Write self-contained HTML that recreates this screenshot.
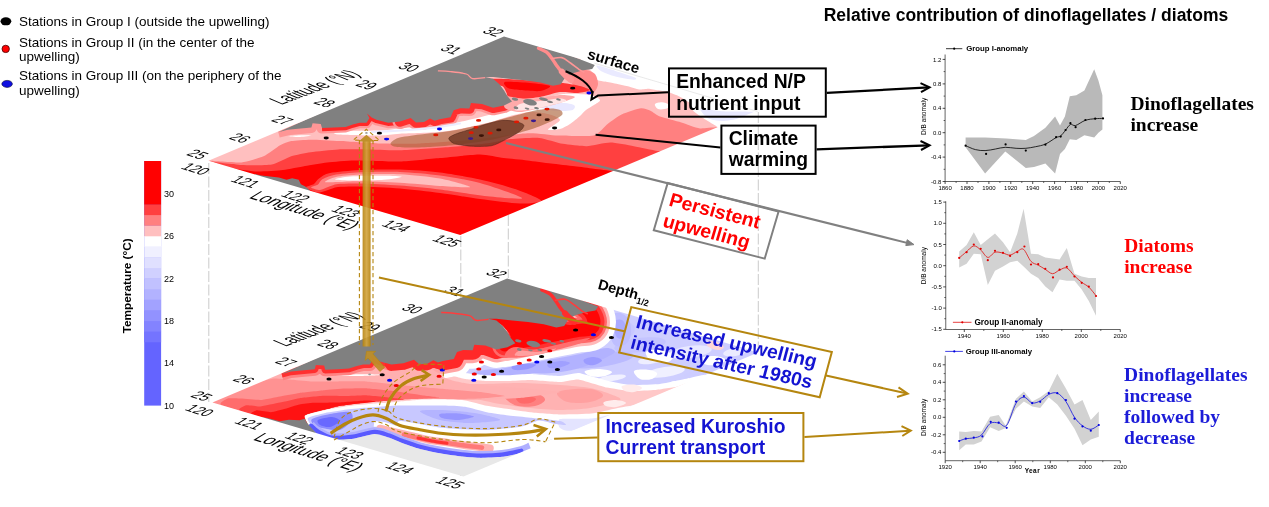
<!DOCTYPE html>
<html><head><meta charset="utf-8"><title>figure</title>
<style>
html,body{margin:0;padding:0;background:#fff;}
body{width:1269px;height:507px;overflow:hidden;}
svg{display:block;font-family:"Liberation Sans",sans-serif;}
</style></head><body>
<svg width="1269" height="507" viewBox="0 0 1269 507">
<rect width="1269" height="507" fill="#fff"/>
<g opacity="0.999">
<path d="M208.8,163 V402" stroke="#b4b4b4" stroke-width="0.7" stroke-dasharray="11 2.5" fill="none"/>
<path d="M460.8,236 V476" stroke="#b4b4b4" stroke-width="0.7" stroke-dasharray="11 2.5" fill="none"/>
<path d="M508.3,215 V278" stroke="#b4b4b4" stroke-width="0.7" stroke-dasharray="11 2.5" fill="none"/>
<path d="M758.3,112 V352" stroke="#b4b4b4" stroke-width="0.7" stroke-dasharray="11 2.5" fill="none"/>
<clipPath id="ctop"><path d="M208.4,160.7 L504,36.6 L756,111 L460.3,234.9Z"/></clipPath>
<g clip-path="url(#ctop)"><g opacity="0.999">
<path d="M204,159.2 L227.6,160.5 L300,150 L480,144 L625,164 L660,150 L700,140 L470,252 L455,239.5Z" fill="rgb(255,0,0)" />
<path d="M208.4,160.7 C212.2,161.4 222.9,166.2 227.6,167.3 C232.3,168.4 249.7,171.2 255.2,171.5 C260.7,171.8 277.9,170.7 282.9,170.1 C287.9,169.5 300.6,166.8 305,166 C309.4,165.2 322.1,163.0 327.1,162.4 C332.1,161.8 347.4,160.5 354.7,160.4 C362.0,160.3 391.5,161.7 400,161.5 C408.5,161.3 432.0,158.7 440,158 C448.0,157.3 473.6,154.5 480,154.5 C486.4,154.5 499.0,157.4 503.7,158 C508.4,158.6 522.7,159.8 527.4,160.4 C532.1,161.0 546.3,162.9 551,163.5 C555.7,164.1 570.4,165.8 574.7,166.3 C579.0,166.8 589.9,168.2 593.7,168.7 C597.5,169.2 610.0,170.7 612.6,171 C615.2,171.3 617.3,171.1 620,172 C622.7,172.9 624.0,185.2 640,180 C656.0,174.8 766.5,128.5 780,120 C793.5,111.5 802.6,105.0 775,95 C747.4,85.0 562.5,13.5 504,20 C445.5,26.5 219.6,145.9 190,160 C160.4,174.1 204.6,160.0 208.4,160.7Z" fill="rgb(255,64,64)" />
<path d="M208.4,160.7 C210.2,160.8 205.0,160.9 208.3,161.3 C211.6,161.7 235.1,164.8 241.4,165.1 C247.8,165.4 266.8,165.5 271.8,164.6 C276.8,163.7 287.3,157.5 291.2,156.3 C295.1,155.1 305.8,152.9 310.5,152.2 C315.2,151.5 332.6,149.7 338.1,149.4 C343.6,149.1 359.5,149.3 365.7,149.4 C371.9,149.5 391.6,150.4 400,150.2 C408.4,150.0 441.0,147.7 450,147 C459.0,146.3 483.9,143.8 490,143 C496.1,142.2 505.9,139.6 510.8,139.1 C515.7,138.6 534.0,137.4 539.2,137.9 C544.4,138.4 558.2,143.0 562.9,143.8 C567.6,144.6 581.9,146.3 586.6,146.2 C591.3,146.1 605.5,142.6 610.2,142.6 C614.9,142.6 629.2,145.4 633.9,146.2 C638.6,147.0 653.8,150.4 657.6,150.9 C661.4,151.4 667.8,150.1 672,151 C676.2,151.9 689.2,163.1 700,160 C710.8,156.9 772.5,126.5 780,120 C787.5,113.5 802.6,105.0 775,95 C747.4,85.0 562.5,13.5 504,20 C445.5,26.5 219.6,145.9 190,160 C160.4,174.1 206.6,160.6 208.4,160.7Z" fill="rgb(255,128,128)" />
<path d="M208.4,160.7 C213.5,160.9 235.9,162.8 241.4,162.4 C246.9,162.0 259.6,158.0 263.5,156.3 C267.4,154.6 277.3,146.7 280.1,145.2 C282.9,143.7 288.2,141.7 291.2,141.1 C294.2,140.5 305.6,139.7 310.5,139.7 C315.4,139.7 333.1,140.6 340,141 C346.9,141.4 372.0,143.3 380,143.5 C388.0,143.7 411.0,143.8 420,143.4 C429.0,143.1 459.3,141.0 470,140 C480.7,139.0 518.6,133.6 527.4,133.2 C536.2,132.8 551.5,135.3 558.1,135.5 C564.7,135.7 588.7,136.7 593.7,135.5 C598.7,134.3 605.1,125.8 607.9,123.7 C610.7,121.6 618.8,115.7 622.1,114.2 C625.4,112.7 638.2,108.6 641,108.3 C643.8,108.0 648.6,109.9 650.5,110.7 C652.4,111.5 656.9,115.4 660,116.6 C663.1,117.8 677.3,121.3 681.3,122.5 C685.3,123.7 695.7,128.0 700,128.4 C704.3,128.8 720.0,126.3 724,127 C728.0,127.7 734.4,135.7 740,135 C745.6,134.3 776.5,124.0 780,120 C783.5,116.0 802.6,105.0 775,95 C747.4,85.0 562.5,13.5 504,20 C445.5,26.5 219.6,145.9 190,160 C160.4,174.1 203.3,160.5 208.4,160.7Z" fill="rgb(255,191,191)" />
<path d="M338,131 C343.6,130.5 371.7,130.8 380,130.5 C388.3,130.2 391.5,129.1 400,128.4 C408.5,127.7 431.8,126.8 443.4,125.1 C455.0,123.4 478.1,117.6 486.8,115.4 C495.5,113.2 501.5,111.0 508.6,108.9 C515.7,106.8 532.7,102.0 540,100 C547.3,98.0 556.3,94.7 563,94 C569.7,93.3 585.1,94.2 590,95 C594.9,95.8 599.5,98.7 600,100 C600.5,101.3 595.9,103.7 594,105 C592.1,106.3 587.9,108.5 586,110 C584.1,111.5 582.1,114.1 580,116 C577.9,117.9 572.7,122.3 570,124 C567.3,125.7 562.9,128.3 560,129 C557.1,129.7 548.0,130.7 548,129.5 C548.0,128.3 560.0,122.1 560,120 C560.0,117.9 552.0,115.1 548,114 C544.0,112.9 535.3,111.7 530,112 C524.7,112.3 514.4,114.9 508.6,116.4 C502.8,117.9 495.5,121.0 486.8,123 C478.1,125.0 455.0,130.2 443.4,131.6 C431.8,133.0 408.5,133.3 400,133.8 C391.5,134.3 388.3,135.4 380,135.5 C371.7,135.6 343.6,135.1 338,134.5 C332.4,133.9 332.4,131.5 338,131Z" fill="#fff" />
<path d="M585,55 C599.8,56.9 754.2,90.0 770,95 C785.8,100.0 778.8,111.7 775,115 C771.2,118.3 729.7,133.9 725,135 C720.3,136.1 719.8,128.8 718.4,127.6 C717.0,126.4 709.9,122.4 707.8,121 C705.7,119.6 695.1,112.7 693.6,111.2 C692.1,109.7 691.2,104.4 690,103.2 C688.8,102.0 681.3,97.5 679.4,96.5 C677.5,95.5 669.2,92.3 667.4,91.8 C665.6,91.3 659.5,90.6 657.9,90.3 C656.3,90.0 650.0,88.8 648.4,88.7 C646.8,88.6 640.7,89.7 639,89.5 C637.3,89.3 630.0,86.8 627.9,86.3 C625.8,85.8 615.7,83.6 613.7,83.2 C611.7,82.8 605.7,81.9 604.2,81.6 C602.7,81.3 597.0,80.3 596,79.5 C595.0,78.7 592.9,74.0 592,72 C591.1,70.0 570.2,53.1 585,55Z" fill="#fff" />
<path d="M596.9,65.6 C598.8,65.5 610.4,69.3 615.5,70.9 C620.6,72.5 632.6,76.3 635.0,77.5 C637.4,78.7 635.8,79.9 633.2,79.8 C630.6,79.7 619.8,77.7 615.5,76.6 C611.2,75.5 603.8,72.8 601.3,71.3 C598.8,69.8 595.0,65.7 596.9,65.6Z" fill="rgb(234,234,255)" />
<path d="M700.7,108.6 C702.6,107.7 714.7,110.7 722.0,111.2 C729.3,111.7 753.3,111.2 755.7,112.1 C758.1,113.0 744.2,117.1 739.7,118.3 C735.2,119.5 726.3,121.0 722.0,121.0 C717.7,121.0 710.6,120.0 707.8,118.3 C705.0,116.6 698.8,109.5 700.7,108.6Z" fill="rgb(232,232,255)" />
<path d="M655,104 C655.7,102.9 659.8,102.1 662,102.2 C664.2,102.3 667.7,103.5 668.5,104.5 C669.3,105.5 668.8,107.8 667,108.5 C665.2,109.2 660.0,109.8 658,109 C656.0,108.2 654.3,105.1 655,104Z" fill="#fff" />
<path d="M572,70 C574.1,68.7 582.9,69.5 586,70 C589.1,70.5 593.4,72.1 595,74 C596.6,75.9 598.1,81.6 598,84 C597.9,86.4 595.9,90.9 594,92 C592.1,93.1 586.4,92.5 584,92 C581.6,91.5 577.9,89.6 576,88 C574.1,86.4 570.5,82.4 570,80 C569.5,77.6 569.9,71.3 572,70Z" fill="rgb(255,140,140)" />
<path d="M543.4,104.9 C545.9,103.9 553.5,102.7 558.6,102.7 C563.7,102.7 571.6,103.6 573.8,104.9 C576.0,106.2 574.9,109.3 571.6,110.3 C568.4,111.3 559.0,111.1 554.3,110.8 C549.6,110.5 545.2,109.6 543.4,108.6 C541.6,107.6 540.9,105.9 543.4,104.9Z" fill="rgb(232,232,255)" />
<path d="M278.3,132.2 L287.7,129.8 L300.7,128.6 L311.4,127.5 L312.6,123.3 L320.8,123.9 L322,128 L333.8,127.5 L345.7,126.9 L352.7,124.5 L359.8,122.7 L366.5,122.7 L369.5,118 L367,113.5 L371.7,117.5 L376.4,119.8 L388.2,122.7 L400,121.5 L410.7,118 L416,122.5 L424,122 L430,118.5 L434.7,120.8 L439.5,119.2 L450.5,117.3 L453.7,110.2 L460,108.2 L469.4,108.6 L471,103.1 L482,103.9 L493.1,107.8 L504.1,105.5 L512,101.5" stroke="rgb(255,150,150)" stroke-width="11" fill="none" stroke-linejoin="round"/>
<path d="M322,128 L333.8,127.5 L345.7,126.9 L352.7,124.5 L359.8,122.7 L366.5,122.7 L369.5,118 L367,113.5 L371.7,117.5 L376.4,119.8 L388.2,122.7 L400,121.5 L410.7,118 L416,122.5 L424,122 L430,118.5 L434.7,120.8 L439.5,119.2 L450.5,117.3 L453.7,110.2 L460,108.2 L469.4,108.6 L471,103.1 L482,103.9 L493.1,107.8 L504.1,105.5 L512,101.5" stroke="rgb(255,40,40)" stroke-width="6.5" fill="none" stroke-linejoin="round"/>
<path d="M400,121.5 L410.7,118 L416,122.5 L424,122 L430,118.5 L434.7,120.8 L439.5,119.2 L450.5,117.3 L453.7,110.2 L460,108.2 L469.4,108.6 L471,103.1 L482,103.9 L493.1,107.8 L504.1,105.5 L512,101.5" stroke="rgb(255,150,150)" stroke-width="15" fill="none" stroke-linejoin="round" stroke-linecap="round"/>
<path d="M400,121.5 L410.7,118 L416,122.5 L424,122 L430,118.5 L434.7,120.8 L439.5,119.2 L450.5,117.3 L453.7,110.2 L460,108.2 L469.4,108.6 L471,103.1 L482,103.9 L493.1,107.8 L504.1,105.5 L512,101.5" stroke="rgb(255,48,48)" stroke-width="10.5" fill="none" stroke-linejoin="round" stroke-linecap="round"/>
<path d="M372,132 C376.7,131.8 390.3,131.1 400,130.5 C409.7,129.9 420.0,129.4 430,128.2 C440.0,127.0 455.0,124.3 460,123.5" stroke="rgb(236,236,255)" stroke-width="2.2" fill="none" stroke-linecap="round"/>
<path d="M438,69.8 C439.0,70.0 463.8,78.1 470,79 C476.2,79.9 493.0,78.6 500,78.8 C507.0,79.0 533.7,80.6 540,81 C546.3,81.4 559.0,82.5 563,83 C567.0,83.5 577.3,85.3 580,86 C582.7,86.7 590.2,89.3 590,90 C589.8,90.7 581.0,92.8 578,93 C575.0,93.2 563.8,91.6 560,92 C556.2,92.4 544.0,96.3 540,97 C536.0,97.7 523.2,99.1 520,99 C516.8,98.9 509.4,96.6 508,96 C506.6,95.4 507.0,93.6 506.4,92.6 C505.8,91.6 504.4,87.2 502,86.1 C499.6,85.0 486.7,82.6 482.5,81.7 C478.3,80.8 464.4,78.2 460,77 C455.6,75.8 437.0,69.6 438,69.8Z" fill="rgb(255,50,50)" />
<path d="M505,82 C507.9,81.3 524.0,82.5 530,83 C536.0,83.5 548.7,84.9 550,86 C551.3,87.1 544.0,90.5 540,91 C536.0,91.5 524.3,90.4 520,90 C515.7,89.6 510.0,89.1 508,88 C506.0,86.9 502.1,82.7 505,82Z" fill="rgb(255,0,0)" />
<path d="M506,97 C509.3,95.8 522.8,99.3 530,99 C537.2,98.7 554.0,95.3 560,95 C566.0,94.7 575.0,95.9 575,97 C575.0,98.1 564.7,101.5 560,103 C555.3,104.5 545.3,106.8 540,108 C534.7,109.2 524.7,112.0 520,112 C515.3,112.0 506.9,110.0 505,108 C503.1,106.0 502.7,98.2 506,97Z" fill="rgb(255,170,170)" />
<path d="M520,104 C523.3,102.8 534.7,101.7 540,101 C545.3,100.3 556.5,98.5 560,98.5 C563.5,98.5 567.6,100.0 566,101 C564.4,102.0 553.1,104.8 548,106 C542.9,107.2 532.4,109.5 528,110 C523.6,110.5 516.1,110.8 515,110 C513.9,109.2 516.7,105.2 520,104Z" fill="rgb(255,228,228)" />
<path d="M534.7,49.5 C534.9,49.3 541.7,51.3 543.4,51.7 C545.1,52.1 549.9,52.9 552.1,53.9 C554.3,54.9 562.9,60.2 565.1,61.5 C567.3,62.8 571.8,65.9 573.8,66.9 C575.8,68.0 584.4,70.9 585,72 C585.6,73.1 581.5,77.4 580,78 C578.5,78.6 571.7,78.5 570,78 C568.3,77.5 564.4,74.5 563,73.4 C561.6,72.3 557.7,68.2 556.4,66.9 C555.1,65.6 551.4,61.7 549.9,60.4 C548.4,59.1 542.8,55.0 541.3,53.9 C539.8,52.8 534.5,49.7 534.7,49.5Z" fill="rgb(255,140,140)" />
<path d="M306,187.5 C305.5,186.4 312.3,185.2 314,184 C315.7,182.8 316.9,180.0 319,178.5 C321.1,177.0 324.5,174.1 330,173 C335.5,171.9 350.7,170.5 360,170 C369.3,169.5 389.3,169.2 400,169.5 C410.7,169.8 429.3,171.2 440,172.5 C450.7,173.8 470.0,177.3 480,179.5 C490.0,181.7 506.9,186.2 515,189 C523.1,191.8 540.3,198.6 541,200.5 C541.7,202.4 528.1,203.7 520,203.5 C511.9,203.3 490.7,200.4 480,199 C469.3,197.6 450.7,194.4 440,193 C429.3,191.6 410.7,189.4 400,188.5 C389.3,187.6 368.3,186.7 360,186.5 C351.7,186.3 342.3,186.5 338,187 C333.7,187.5 330.7,189.3 328,190 C325.3,190.7 320.9,192.8 318,192.5 C315.1,192.2 306.5,188.6 306,187.5Z" fill="rgb(255,64,64)" />
<path d="M311,187.5 C310.7,186.8 316.5,185.6 318,184.5 C319.5,183.4 319.9,180.8 322,179.5 C324.1,178.2 328.9,176.0 334,175 C339.1,174.0 351.2,172.7 360,172.3 C368.8,171.9 389.3,171.6 400,172 C410.7,172.4 429.3,174.0 440,175.5 C450.7,177.0 469.1,180.0 480,183 C490.9,186.0 520.7,196.2 522,198 C523.3,199.8 500.9,197.6 490,196.5 C479.1,195.4 452.0,191.0 440,189.5 C428.0,188.0 410.7,186.3 400,185.5 C389.3,184.7 368.3,183.7 360,183.5 C351.7,183.3 342.3,183.5 338,184 C333.7,184.5 330.4,186.2 328,187 C325.6,187.8 322.3,189.9 320,190 C317.7,190.1 311.3,188.2 311,187.5Z" fill="rgb(255,128,128)" />
<path d="M325,182 C324.7,181.3 331.3,178.0 336,177 C340.7,176.0 351.5,174.9 360,174.5 C368.5,174.1 389.3,173.7 400,174.2 C410.7,174.7 430.7,176.8 440,178.5 C449.3,180.2 470.0,186.0 470,187 C470.0,188.0 449.3,186.6 440,186 C430.7,185.4 410.7,183.4 400,182.8 C389.3,182.2 368.3,181.3 360,181.2 C351.7,181.1 342.7,181.9 338,182 C333.3,182.1 325.3,182.7 325,182Z" fill="rgb(255,191,191)" />
<path d="M335,179.3 C335.0,178.8 343.5,177.0 350,176.5 C356.5,176.0 377.1,175.7 384,175.7 C390.9,175.7 402.0,176.3 402,176.8 C402.0,177.3 390.9,179.3 384,179.8 C377.1,180.3 356.5,180.6 350,180.5 C343.5,180.4 335.0,179.8 335,179.3Z" fill="#fff" />
<path d="M288,136.3 C288.0,136.1 296.8,135.4 300,135.3 C303.2,135.2 312.0,135.4 312,135.6 C312.0,135.8 303.2,136.9 300,137 C296.8,137.1 288.0,136.5 288,136.3Z" fill="#fff" />
<path d="M278.3,132.2 L287.7,129.8 L300.7,128.6 L311.4,127.5 L312.6,123.3 L320.8,123.9 L322,128 L333.8,127.5 L345.7,126.9 L352.7,124.5 L359.8,122.7 L366.5,122.7 L369.5,118 L367,113.5 L371.7,117.5 L376.4,119.8 L388.2,122.7 L400,121.5 L410.7,118 L416,122.5 L424,122 L430,118.5 L434.7,120.8 L439.5,119.2 L450.5,117.3 L453.7,110.2 L460,108.2 L469.4,108.6 L471,103.1 L482,103.9 L493.1,107.8 L504.1,105.5 L512,101.5 L507.3,96 L504.1,90.5 L499.4,84.2 L493.1,78.7 L485.2,77.1 L493.1,77.1 L508.9,78.7 L524.7,80.2 L540.4,82.6 L553,85.8 L560.9,84.2 L563.5,80 L566,76.5 L572.7,73.2 L583.5,70.2 L592.2,68.9 L594.8,64.9 L504,30Z" fill="#808080" />
<path d="M485.2,77.6 C483.1,77.8 475.8,79.2 472.6,78.6 C469.5,78.0 470.0,75.2 466.3,74 C462.6,72.8 455.2,72.1 450.5,71.6 C445.8,71.1 440.0,70.9 437.9,70.8" stroke="rgb(255,150,150)" stroke-width="1.3" fill="none"/>
<path d="M538.5,48.2 C539.9,48.9 544.3,50.5 546.6,52.2 C548.9,54.0 550.5,56.5 552.1,58.7 C553.7,60.9 554.8,63.0 556.4,65.2 C558.0,67.4 559.8,69.7 561.8,71.7 C563.8,73.8 567.2,76.5 568.3,77.5" stroke="rgb(255,140,140)" stroke-width="3.4" fill="none" stroke-linecap="round"/>
<path d="M552.1,58.7 C553.7,58.5 558.7,56.9 561.8,57.6 C564.9,58.3 567.6,61.0 570.5,63 C573.4,65.0 577.0,68.1 579.2,69.6 C581.5,71.1 583.2,71.6 584,72" stroke="rgb(255,150,150)" stroke-width="1.6" fill="none" stroke-linecap="round"/>
<path d="M561.8,71.7 C562.5,72.4 564.5,74.6 566,76 C567.5,77.4 570.2,79.3 571,80" stroke="rgb(255,150,150)" stroke-width="6" fill="none" stroke-linecap="round"/>
<path d="M255,174 L261.2,175.4 L270,176.5 L278.8,177.6 L286.6,179.8 L292.1,178.2 L298.7,179.8 L300.9,184.2 L305.3,186.4 L308.6,189.3 L312,193 L255,180Z" fill="#808080" />
<ellipse cx="515" cy="99.2" rx="3.2" ry="1.5" fill="#808080" transform="rotate(12 515 99.2)"/>
<ellipse cx="530" cy="102.3" rx="7" ry="3" fill="#808080" transform="rotate(12 530 102.3)"/>
<ellipse cx="543.5" cy="99.2" rx="4.5" ry="1.5" fill="#808080" transform="rotate(12 543.5 99.2)"/>
<ellipse cx="550" cy="101.8" rx="3" ry="1.1" fill="#808080" transform="rotate(12 550 101.8)"/>
<ellipse cx="558.5" cy="99.5" rx="2.4" ry="1.1" fill="#808080" transform="rotate(12 558.5 99.5)"/>
<ellipse cx="516" cy="107.8" rx="2.4" ry="1.4" fill="#808080" transform="rotate(12 516 107.8)"/>
<ellipse cx="527" cy="108.6" rx="2.4" ry="0.9" fill="#808080" transform="rotate(12 527 108.6)"/>
<ellipse cx="536.5" cy="108.2" rx="2.4" ry="1.1" fill="#808080" transform="rotate(12 536.5 108.2)"/>
<path d="M390.5,143.5 C391.0,142.4 394.1,139.2 398,138 C401.9,136.8 413.1,135.4 420,134.5 C426.9,133.6 442.0,132.3 450,131 C458.0,129.7 472.0,126.9 480,125 C488.0,123.1 502.7,118.9 510,117 C517.3,115.1 529.4,111.6 535,110.5 C540.6,109.4 548.5,108.5 552,108.5 C555.5,108.5 559.7,109.6 561,110.5 C562.3,111.4 563.2,113.6 562,115 C560.8,116.4 555.6,119.3 552,121 C548.4,122.7 539.9,126.3 535,128 C530.1,129.7 521.0,132.4 515,134 C509.0,135.6 497.3,138.6 490,140 C482.7,141.4 468.0,143.6 460,144.5 C452.0,145.4 437.3,146.6 430,147 C422.7,147.4 409.8,147.6 405,147.5 C400.2,147.4 395.9,147.0 394,146.5 C392.1,146.0 390.0,144.6 390.5,143.5Z" fill="rgba(170,98,58,0.64)" />
<path d="M448.8,138.2 C449.1,136.9 453.4,135.0 456.4,133.8 C459.4,132.6 467.5,130.3 471.6,129.0 C475.7,127.7 482.7,125.1 486.8,124.0 C490.9,122.9 498.2,120.7 502.0,120.4 C505.8,120.1 512.2,120.8 515.1,121.4 C518.0,122.0 523.2,123.7 523.8,125.1 C524.4,126.5 522.0,129.6 519.4,131.6 C516.8,133.6 508.0,138.4 504.2,140.3 C500.4,142.2 495.5,145.0 491.2,145.8 C486.9,146.6 476.5,146.5 471.6,146.2 C466.7,145.9 457.3,144.7 454.3,143.6 C451.3,142.5 448.5,139.5 448.8,138.2Z" fill="rgba(110,55,35,0.8)" stroke="rgba(70,30,20,0.8)" stroke-width="0.6"/>
<ellipse cx="326.2" cy="138" rx="2.6" ry="1.4" fill="#000"/>
<ellipse cx="379.4" cy="133.2" rx="2.6" ry="1.4" fill="#000"/>
<ellipse cx="386.6" cy="139.1" rx="2.6" ry="1.4" fill="#0000f0"/>
<ellipse cx="439.5" cy="129" rx="2.6" ry="1.4" fill="#0000f0"/>
<ellipse cx="435.8" cy="134.9" rx="2.6" ry="1.4" fill="#e01800"/>
<ellipse cx="478.6" cy="120.4" rx="2.6" ry="1.4" fill="#e01800"/>
<ellipse cx="476" cy="127.3" rx="2.6" ry="1.4" fill="#e01800"/>
<ellipse cx="471.2" cy="132.7" rx="2.6" ry="1.4" fill="#e01800"/>
<ellipse cx="470.6" cy="138.6" rx="2.6" ry="1.4" fill="#3a1a90"/>
<ellipse cx="481.4" cy="135.6" rx="2.6" ry="1.4" fill="#3a1206"/>
<ellipse cx="490.1" cy="133.2" rx="2.6" ry="1.4" fill="#e01800"/>
<ellipse cx="498.8" cy="129.9" rx="2.6" ry="1.4" fill="#3a1206"/>
<ellipse cx="516.6" cy="121.9" rx="2.6" ry="1.4" fill="#e01800"/>
<ellipse cx="525.9" cy="118.2" rx="2.6" ry="1.4" fill="#e01800"/>
<ellipse cx="533.5" cy="120.8" rx="2.6" ry="1.4" fill="#3a1a90"/>
<ellipse cx="539" cy="114.9" rx="2.6" ry="1.4" fill="#3a1206"/>
<ellipse cx="547.2" cy="119.7" rx="2.6" ry="1.4" fill="#3a1206"/>
<ellipse cx="547" cy="109.1" rx="2.6" ry="1.4" fill="#e01800"/>
<ellipse cx="554.6" cy="128" rx="2.6" ry="1.4" fill="#000"/>
<ellipse cx="572.7" cy="88.2" rx="2.6" ry="1.4" fill="#000"/>
<ellipse cx="589" cy="93" rx="2.6" ry="1.4" fill="#0000f0"/>
</g></g>
<path d="M594.5,63.3 L757.5,111.4" stroke="#e0e0e0" stroke-width="0.7"/>
<clipPath id="cbot"><path d="M212.4,402.4 L507.1,278.4 L758.2,352.5 L463.5,476.5Z"/></clipPath>
<g clip-path="url(#cbot)"><g opacity="0.999">
<path d="M420,330 L507,268 L775,352 L463.5,490 L300,432Z" fill="rgb(206,206,255)" />
<ellipse cx="640" cy="345" rx="26" ry="7" fill="rgb(196,196,255)" transform="rotate(-8 640 345)"/>
<ellipse cx="600" cy="360" rx="34" ry="7" fill="rgb(186,186,255)" transform="rotate(-8 600 360)"/>
<ellipse cx="690" cy="352" rx="22" ry="6" fill="rgb(232,232,255)" transform="rotate(-8 690 352)"/>
<ellipse cx="560" cy="366" rx="32" ry="6" fill="rgb(178,178,255)" transform="rotate(-8 560 366)"/>
<ellipse cx="520" cy="370.5" rx="30" ry="4.5" fill="rgb(170,170,255)" transform="rotate(-8 520 370.5)"/>
<ellipse cx="485" cy="373" rx="18" ry="3" fill="rgb(180,180,255)" transform="rotate(-8 485 373)"/>
<ellipse cx="665" cy="372" rx="20" ry="5" fill="rgb(240,240,255)" transform="rotate(-8 665 372)"/>
<ellipse cx="625" cy="330" rx="10" ry="8" fill="rgb(200,200,255)" transform="rotate(-8 625 330)"/>
<ellipse cx="700" cy="374" rx="16" ry="4" fill="rgb(205,205,255)" transform="rotate(-8 700 374)"/>
<ellipse cx="735" cy="352" rx="12" ry="4" fill="rgb(236,236,255)" transform="rotate(-8 735 352)"/>
<ellipse cx="650" cy="360" rx="12" ry="4" fill="rgb(238,238,255)" transform="rotate(-8 650 360)"/>
<ellipse cx="612" cy="378" rx="14" ry="3" fill="rgb(240,240,255)" transform="rotate(-8 612 378)"/>
<ellipse cx="715" cy="345.5" rx="9" ry="4" fill="rgb(255,215,215)" transform="rotate(15 715 345.5)"/>
<path d="M609,316 C610.3,313.8 616.7,312.3 620,313 C623.3,313.7 627.2,316.5 629,320 C630.8,323.5 631.5,330.0 631,334 C630.5,338.0 628.5,342.0 626,344 C623.5,346.0 618.5,347.0 616,346 C613.5,345.0 611.7,341.3 611,338 C610.3,334.7 612.3,329.7 612,326 C611.7,322.3 607.7,318.2 609,316Z" fill="rgb(190,190,255)" />
<path d="M614,322 C615.0,319.3 620.0,319.0 622,320 C624.0,321.0 626.0,325.0 626,328 C626.0,331.0 623.7,336.7 622,338 C620.3,339.3 617.3,338.7 616,336 C614.7,333.3 613.0,324.7 614,322Z" fill="rgb(170,170,255)" />
<path d="M470,376 C472.7,374.8 490.7,370.9 500,369 C509.3,367.1 529.3,363.5 540,361.5 C550.7,359.5 571.2,355.8 580,354 C588.8,352.2 601.3,348.3 606,348 C610.7,347.7 615.8,350.4 615,352 C614.2,353.6 606.0,358.0 600,360 C594.0,362.0 578.0,365.4 570,367 C562.0,368.6 548.0,370.8 540,372 C532.0,373.2 518.0,375.2 510,376 C502.0,376.8 485.3,378.0 480,378 C474.7,378.0 467.3,377.2 470,376Z" fill="rgb(178,178,255)" />
<path d="M512,366.5 C513.5,365.4 520.0,363.8 524,363.5 C528.0,363.2 535.3,363.6 536,364.5 C536.7,365.4 531.5,368.1 528,369 C524.5,369.9 517.7,370.4 515,370 C512.3,369.6 510.5,367.6 512,366.5Z" fill="rgb(150,150,255)" />
<path d="M584,359.5 C585.3,358.3 591.0,356.8 594,357 C597.0,357.2 602.0,359.2 602,360.5 C602.0,361.8 596.7,364.4 594,365 C591.3,365.6 587.7,364.9 586,364 C584.3,363.1 582.7,360.7 584,359.5Z" fill="rgb(155,155,255)" />
<path d="M548,364 C549.7,362.8 556.3,361.2 560,361 C563.7,360.8 570.0,361.9 570,363 C570.0,364.1 563.3,366.7 560,367.5 C556.7,368.3 552.0,368.6 550,368 C548.0,367.4 546.3,365.2 548,364Z" fill="rgb(160,160,255)" />
<path d="M634,371 C635.0,369.4 642.2,369.2 646,369.5 C649.8,369.8 656.0,371.4 657,373 C658.0,374.6 654.8,378.0 652,379 C649.2,380.0 643.0,380.3 640,379 C637.0,377.7 633.0,372.6 634,371Z" fill="#fff" />
<path d="M646,352 C647.3,350.2 655.5,349.5 660,350 C664.5,350.5 671.7,353.0 673,355 C674.3,357.0 671.5,361.0 668,362 C664.5,363.0 655.7,362.7 652,361 C648.3,359.3 644.7,353.8 646,352Z" fill="#fff" />
<path d="M671,382 C672.7,380.6 681.5,380.5 686,381 C690.5,381.5 697.3,383.4 698,385 C698.7,386.6 693.7,389.8 690,390.5 C686.3,391.2 679.2,390.9 676,389.5 C672.8,388.1 669.3,383.4 671,382Z" fill="#fff" />
<path d="M700,358 C701.8,356.7 710.7,355.7 715,356 C719.3,356.3 725.8,358.5 726,360 C726.2,361.5 719.7,364.3 716,365 C712.3,365.7 706.7,365.2 704,364 C701.3,362.8 698.2,359.3 700,358Z" fill="#fff" />
<path d="M585,371 C586.7,369.8 595.5,368.8 600,369 C604.5,369.2 611.5,370.8 612,372 C612.5,373.2 606.7,375.8 603,376.5 C599.3,377.2 593.0,376.9 590,376 C587.0,375.1 583.3,372.2 585,371Z" fill="#fff" />
<path d="M453.8,359.0 L457.0,351.9 L463.3,349.9 L472.7,350.29999999999995 L474.3,344.79999999999995 L485.3,345.6 L496.40000000000003,349.5 L507.40000000000003,347.2 L515.3,343.2 L523.3,340.7 L548.3,336.7 L568.3,331.7 L583.3,329.7" stroke="#fff" stroke-width="37" fill="none" stroke-linejoin="round" stroke-linecap="round"/>
<path d="M505,345 C510.8,343.8 528.3,340.3 540,338 C551.7,335.7 566.7,332.5 575,331 C583.3,329.5 586.8,330.5 590,329 C593.2,327.5 594.0,324.8 594,322 C594.0,319.2 592.0,314.8 590,312 C588.0,309.2 583.3,306.2 582,305" stroke="#fff" stroke-width="44" fill="none" stroke-linecap="round"/>
<path d="M212.4,402.4 C215.3,389.2 490.9,281.4 507.1,278.4 C523.3,275.4 459.5,351.6 455,358 C450.5,364.4 440.0,374.2 440,375 C440.0,375.8 452.6,370.6 454.3,370.5 C456.0,370.4 462.9,372.7 465.1,373 C467.3,373.3 483.9,375.1 486.8,375.2 C489.7,375.3 505.7,375.3 508.6,375.2 C511.5,375.1 526.9,373.9 530.3,374 C533.7,374.1 556.8,376.1 560,376 C563.2,375.9 575.4,372.7 578.5,373 C581.6,373.3 603.3,379.7 606.7,380.5 C610.1,381.3 626.4,384.8 630,385 C633.6,385.2 656.0,384.5 660,384 C664.0,383.5 687.3,378.4 690,378 C692.7,377.6 715.1,371.2 700,377.8 C684.9,384.4 496.0,474.9 463.5,476.5 C431.0,478.1 209.5,415.6 212.4,402.4Z" fill="#fff" />
<path d="M212.4,402.4 C215.3,389.2 490.9,281.1 507.1,278.4 C523.3,275.7 459.5,355.3 455,362 C450.5,368.7 440.0,378.0 440,379 C440.0,380.0 452.6,376.5 454.3,376.5 C456.0,376.5 462.9,378.7 465.1,379 C467.3,379.3 483.9,380.9 486.8,381 C489.7,381.1 505.7,381.1 508.6,381 C511.5,380.9 526.9,379.9 530.3,380 C533.7,380.1 556.8,382.0 560,382 C563.2,382.0 575.4,379.1 578.5,379.5 C581.6,379.9 603.3,386.8 606.7,387.6 C610.1,388.4 626.8,390.8 630,391 C633.2,391.2 651.8,390.3 655,390 C658.2,389.7 676.1,386.9 678,386.5 C679.9,386.1 698.3,378.4 684,384.4 C669.7,390.4 494.9,475.3 463.5,476.5 C432.1,477.7 209.5,415.6 212.4,402.4Z" fill="rgb(255,200,200)" />
<path d="M400,384 C405.3,382.4 429.3,384.0 440,384 C450.7,384.0 469.3,384.1 480,384 C490.7,383.9 509.3,382.9 520,383 C530.7,383.1 550.7,384.3 560,385 C569.3,385.7 583.3,386.8 590,388 C596.7,389.2 606.0,392.4 610,394 C614.0,395.6 622.7,398.1 620,400 C617.3,401.9 598.0,406.7 590,408 C582.0,409.3 568.0,410.0 560,410 C552.0,410.0 538.0,408.8 530,408 C522.0,407.2 508.0,405.3 500,404 C492.0,402.7 478.0,399.1 470,398 C462.0,396.9 449.3,396.3 440,396 C430.7,395.7 405.3,397.6 400,396 C394.7,394.4 394.7,385.6 400,384Z" fill="rgb(255,178,178)" />
<path d="M505,395 C507.0,393.5 514.5,392.2 520,392 C525.5,391.8 533.8,392.7 538,394 C542.2,395.3 545.5,398.0 545,400 C544.5,402.0 539.5,405.0 535,406 C530.5,407.0 522.5,406.8 518,406 C513.5,405.2 510.2,402.8 508,401 C505.8,399.2 503.0,396.5 505,395Z" fill="rgb(255,128,128)" />
<path d="M516,397 C517.3,395.8 524.7,395.7 528,396 C531.3,396.3 535.7,397.8 536,399 C536.3,400.2 532.7,402.3 530,403 C527.3,403.7 522.3,404.0 520,403 C517.7,402.0 514.7,398.2 516,397Z" fill="rgb(255,105,105)" />
<path d="M558,392 C560.5,390.5 568.8,389.3 575,389 C581.2,388.7 590.3,388.8 595,390 C599.7,391.2 603.8,394.0 603,396 C602.2,398.0 595.5,400.9 590,402 C584.5,403.1 575.0,403.2 570,402.5 C565.0,401.8 562.0,399.8 560,398 C558.0,396.2 555.5,393.5 558,392Z" fill="rgb(255,160,160)" />
<path d="M470,388 C471.8,387.1 479.7,386.3 484,386.5 C488.3,386.7 495.7,388.0 496,389 C496.3,390.0 489.8,392.0 486,392.5 C482.2,393.0 475.7,392.8 473,392 C470.3,391.2 468.2,388.9 470,388Z" fill="rgb(255,160,160)" />
<path d="M622,386 C623.5,384.9 630.7,384.2 634,384.5 C637.3,384.8 642.0,386.8 642,388 C642.0,389.2 636.8,391.5 634,392 C631.2,392.5 627.0,392.0 625,391 C623.0,390.0 620.5,387.1 622,386Z" fill="rgb(255,236,236)" />
<path d="M436,391 C438.0,390.2 446.0,389.7 450,390 C454.0,390.3 460.0,392.1 460,393 C460.0,393.9 453.7,395.2 450,395.5 C446.3,395.8 440.3,395.2 438,394.5 C435.7,393.8 434.0,391.8 436,391Z" fill="rgb(255,236,236)" />
<path d="M604,402 C605.7,401.0 612.3,399.8 616,400 C619.7,400.2 626.0,401.8 626,403 C626.0,404.2 619.3,406.5 616,407 C612.7,407.5 608.0,406.8 606,406 C604.0,405.2 602.3,403.0 604,402Z" fill="rgb(255,236,236)" />
<path d="M212.4,402.4 C226.2,392.4 491.9,280.4 507.1,278.4 C522.3,276.4 442.5,365.0 440,372 C437.5,379.0 464.7,382.9 470,384 C475.3,385.1 514.0,387.5 520,388 C526.0,388.5 560.0,391.3 560,392 C560.0,392.7 526.0,397.5 520,398 C514.0,398.5 475.1,399.9 470,400 C464.9,400.1 446.7,399.4 443.4,399.3 C440.1,399.2 424.3,398.8 421,398.8 C417.7,398.8 396.0,399.6 393.4,399.8 C390.8,400.0 383.4,401.0 381.6,401.2 C379.8,401.4 368.0,402.0 365.7,402.3 C363.4,402.6 348.6,404.7 346.8,405 C345.0,405.3 339.5,405.9 338.1,406.2 C336.7,406.5 327.2,409.0 325.1,409.6 C323.0,410.2 308.4,413.4 306.7,414.6 C305.0,415.8 306.3,429.1 300,428.3 C293.7,427.5 198.6,412.4 212.4,402.4Z" fill="rgb(255,176,176)" />
<path d="M212.4,402.4 C209.1,399.5 246.7,386.9 250,385.5 C253.3,384.1 260.3,381.5 262,381 C263.7,380.5 273.1,378.6 275,378.5 C276.9,378.4 287.6,379.3 290,379.5 C292.4,379.7 307.3,381.3 310.5,381.4 C313.7,381.5 334.4,381.4 338.1,381.4 C341.8,381.4 362.0,381.2 365.7,381.4 C369.4,381.6 389.7,383.8 393.4,384.2 C397.1,384.6 417.2,386.6 421,387 C424.8,387.4 446.1,389.2 450,389.5 C453.9,389.8 476.3,391.6 480,392 C483.7,392.4 505.0,395.6 505,396 C505.0,396.4 484.1,398.3 480,398.5 C475.9,398.7 447.3,399.3 443.4,399.3 C439.5,399.3 424.3,398.8 421,398.8 C417.7,398.8 396.0,399.6 393.4,399.8 C390.8,400.0 383.4,401.0 381.6,401.2 C379.8,401.4 368.0,402.0 365.7,402.3 C363.4,402.6 348.6,404.7 346.8,405 C345.0,405.3 339.5,405.9 338.1,406.2 C336.7,406.5 327.2,409.0 325.1,409.6 C323.0,410.2 308.4,413.4 306.7,414.6 C305.0,415.8 306.3,429.1 300,428.3 C293.7,427.5 215.7,405.3 212.4,402.4Z" fill="rgb(255,146,146)" />
<path d="M336,375.2 C336.0,375.0 353.6,374.4 360,374.3 C366.4,374.2 384.0,374.6 384,374.8 C384.0,375.0 366.4,375.9 360,376 C353.6,376.1 336.0,375.4 336,375.2Z" fill="#fff" />
<path d="M222,405.2 C217.2,403.2 226.7,398.9 228,398.5 C229.3,398.1 238.7,398.5 240.9,398.6 C243.1,398.7 257.8,400.1 260.4,400 C263.0,399.9 277.3,396.9 279.9,396.4 C282.5,395.9 296.5,393.3 299.5,392.9 C302.5,392.5 321.3,390.5 324.3,390.2 C327.3,389.9 342.2,388.7 345,388.6 C347.8,388.5 362.5,388.1 365.7,388.3 C368.9,388.5 389.7,390.6 393.4,391.1 C397.1,391.6 417.9,394.8 421,395.2 C424.1,395.6 440.0,397.3 440,397.5 C440.0,397.7 424.1,398.6 421,398.8 C417.9,399.0 396.0,399.6 393.4,399.8 C390.8,400.0 383.4,401.0 381.6,401.2 C379.8,401.4 368.0,402.0 365.7,402.3 C363.4,402.6 348.6,404.7 346.8,405 C345.0,405.3 339.5,405.9 338.1,406.2 C336.7,406.5 327.2,409.0 325.1,409.6 C323.0,410.2 308.4,413.4 306.7,414.6 C305.0,415.8 305.6,428.9 300,428.3 C294.4,427.7 226.8,407.2 222,405.2Z" fill="rgb(255,108,108)" />
<path d="M240,410.5 C236.4,409.0 245.2,405.6 246,405.3 C246.8,405.0 250.5,405.4 251.5,405.5 C252.5,405.6 258.5,406.7 260.4,406.5 C262.3,406.3 277.3,403.2 279.9,402.6 C282.5,402.0 296.5,398.7 299.5,398.2 C302.5,397.7 321.3,395.9 324.3,395.8 C327.3,395.7 342.2,396.0 345,396 C347.8,396.0 362.5,395.1 365.7,395.2 C368.9,395.3 390.8,397.7 393.4,398 C396.0,398.3 405.8,399.3 405,399.5 C404.2,399.7 384.2,401.0 381.6,401.2 C379.0,401.4 368.0,402.0 365.7,402.3 C363.4,402.6 348.6,404.7 346.8,405 C345.0,405.3 339.5,405.9 338.1,406.2 C336.7,406.5 327.2,409.0 325.1,409.6 C323.0,410.2 308.4,413.4 306.7,414.6 C305.0,415.8 304.4,428.6 300,428.3 C295.6,428.0 243.6,412.0 240,410.5Z" fill="rgb(255,66,66)" />
<path d="M252,414.1 C249.1,412.9 255.6,410.6 256,410.4 C256.4,410.2 257.6,410.5 258.6,410.6 C259.6,410.7 269.2,412.3 271,412.2 C272.8,412.1 283.4,409.3 285.3,408.8 C287.2,408.3 297.6,405.0 299.5,404.6 C301.4,404.2 311.1,402.9 313.7,402.8 C316.3,402.7 334.6,402.8 338.1,402.6 C341.6,402.4 363.2,400.6 365.7,400.5 C368.2,400.4 377.3,401.2 376,401.5 C374.7,401.8 349.3,404.7 346.8,405 C344.3,405.3 339.5,405.9 338.1,406.2 C336.7,406.5 327.2,409.0 325.1,409.6 C323.0,410.2 307.7,413.9 306.7,414.6 C305.7,415.3 310.4,419.1 310,420 C309.6,420.9 303.9,428.7 300,428.3 C296.1,427.9 254.9,415.3 252,414.1Z" fill="rgb(255,18,18)" />
<path d="M442.8,360.9 L453.8,359.0 L457.0,351.9 L463.3,349.9 L472.7,350.29999999999995 L474.3,344.79999999999995 L485.3,345.6 L496.40000000000003,349.5 L507.40000000000003,347.2 L515.3,343.2 L523.3,340.7 L548.3,336.7 L568.3,331.7 L583.3,329.7" stroke="rgb(255,165,165)" stroke-width="26" fill="none" stroke-linejoin="round" stroke-linecap="round"/>
<path d="M505,345 C510.8,343.8 528.3,340.3 540,338 C551.7,335.7 566.7,332.5 575,331 C583.3,329.5 586.8,330.5 590,329 C593.2,327.5 594.0,324.8 594,322 C594.0,319.2 592.0,314.8 590,312 C588.0,309.2 583.3,306.2 582,305" stroke="rgb(255,185,185)" stroke-width="32" fill="none" stroke-linecap="round"/>
<path d="M281.6,373.9 L291.0,371.5 L304.0,370.29999999999995 L314.7,369.2 L315.90000000000003,365.0 L324.1,365.6 L325.3,369.7 L337.1,369.2 L349.0,368.6 L356.0,366.2 L363.1,364.4 L369.8,364.4 L372.8,359.7 L370.3,355.2 L375.0,359.2 L379.7,361.5 L391.5,364.4 L403.3,363.2 L414.0,359.7 L419.3,364.2 L427.3,363.7 L433.3,360.2 L438.0,362.5 L442.8,360.9 L453.8,359.0" stroke="rgb(255,130,130)" stroke-width="13" fill="none" stroke-linejoin="round"/>
<path d="M281.6,373.9 L291.0,371.5 L304.0,370.29999999999995 L314.7,369.2 L315.90000000000003,365.0 L324.1,365.6 L325.3,369.7 L337.1,369.2 L349.0,368.6 L356.0,366.2 L363.1,364.4 L369.8,364.4 L372.8,359.7 L370.3,355.2 L375.0,359.2 L379.7,361.5 L391.5,364.4 L403.3,363.2 L414.0,359.7 L419.3,364.2 L427.3,363.7 L433.3,360.2 L438.0,362.5 L442.8,360.9 L453.8,359.0" stroke="rgb(255,48,48)" stroke-width="7.4" fill="none" stroke-linejoin="round"/>
<path d="M391.5,364.4 L403.3,363.2 L414.0,359.7 L419.3,364.2 L427.3,363.7 L433.3,360.2 L438.0,362.5 L442.8,360.9 L453.8,359.0" stroke="rgb(255,40,40)" stroke-width="13" fill="none" stroke-linejoin="round" stroke-linecap="round"/>
<path d="M442.8,360.9 L453.8,359.0 L457.0,351.9 L463.3,349.9 L472.7,350.29999999999995 L474.3,344.79999999999995 L485.3,345.6 L496.40000000000003,349.5 L507.40000000000003,347.2 L515.3,343.2 L523.3,340.7 L548.3,336.7 L568.3,331.7 L583.3,329.7" stroke="rgb(255,40,40)" stroke-width="19" fill="none" stroke-linejoin="round" stroke-linecap="round"/>
<path d="M505,345 C510.8,343.8 528.3,340.3 540,338 C551.7,335.7 566.7,332.5 575,331 C583.3,329.5 586.8,330.5 590,329 C593.2,327.5 594.0,324.8 594,322 C594.0,319.2 592.0,314.8 590,312 C588.0,309.2 583.3,306.2 582,305" stroke="rgb(255,105,105)" stroke-width="26" fill="none" stroke-linecap="round"/>
<path d="M505,345 C510.8,343.8 528.3,340.3 540,338 C551.7,335.7 566.7,332.5 575,331 C583.3,329.5 586.8,330.5 590,329 C593.2,327.5 594.0,324.8 594,322 C594.0,319.2 592.0,314.8 590,312 C588.0,309.2 583.3,306.2 582,305" stroke="rgb(255,50,50)" stroke-width="21" fill="none" stroke-linecap="round"/>
<path d="M505,345 C510.8,343.8 528.3,340.3 540,338 C551.7,335.7 566.7,332.5 575,331 C583.3,329.5 586.8,330.5 590,329 C593.2,327.5 594.0,324.8 594,322 C594.0,319.2 592.0,314.8 590,312 C588.0,309.2 583.3,306.2 582,305" stroke="rgb(255,5,5)" stroke-width="13" fill="none" stroke-linecap="round"/>
<path d="M482,316.5 C482.5,315.9 498.7,318.0 505,318.5 C511.3,319.0 538.0,320.8 545,321.5 C552.0,322.2 570.5,325.1 575,326 C579.5,326.9 591.5,328.6 590,330 C588.5,331.4 566.0,338.6 560,340 C554.0,341.4 534.6,343.8 530,344 C525.4,344.2 516.1,343.1 514,342 C511.9,340.9 510.4,334.8 509,333 C507.6,331.2 502.7,325.6 500,324 C497.3,322.4 481.5,317.1 482,316.5Z" fill="rgb(255,5,5)" />
<path d="M516,347 C519.6,346.9 529.7,349.8 535,349.5 C540.3,349.2 550.7,346.2 556,345 C561.3,343.8 570.5,341.4 575,340.5 C579.5,339.6 589.3,337.6 590,338 C590.7,338.4 584.0,342.0 580,343.5 C576.0,345.0 565.3,347.6 560,349 C554.7,350.4 545.3,352.9 540,354 C534.7,355.1 524.7,357.1 520,357.5 C515.3,357.9 506.6,358.0 505,357 C503.4,356.0 506.5,351.3 508,350 C509.5,348.7 512.4,347.1 516,347Z" fill="rgb(255,110,110)" />
<path d="M520,350.5 C523.1,350.0 533.2,352.3 538,352 C542.8,351.7 554.7,348.4 556,348.5 C557.3,348.6 551.5,351.6 548,352.5 C544.5,353.4 534.4,355.1 530,355.5 C525.6,355.9 516.3,356.2 515,355.5 C513.7,354.8 516.9,351.0 520,350.5Z" fill="rgb(255,160,160)" />
<path d="M305,415.5 C306.4,414.3 321.6,410.7 325.1,409.9 C328.6,409.1 343.2,406.7 346.8,406.2 C350.4,405.7 365.7,404.3 368.6,404 C371.5,403.7 379.4,403.2 381.6,403 C383.8,402.8 391.4,402.2 394.6,401.9 C397.8,401.6 415.9,399.9 420,399.7 C424.1,399.5 439.6,399.2 443.4,399.3 C447.2,399.4 461.5,399.9 465.1,400.4 C468.7,400.9 483.2,405.1 486.8,405.8 C490.4,406.5 505.0,408.6 508.6,409.1 C512.2,409.6 526.0,411.9 530.3,412.3 C534.6,412.8 554.9,414.4 560,414.5 C565.1,414.6 586.6,414.1 591.3,413.6 C596.0,413.1 612.6,409.0 616.9,408.2 C621.2,407.4 638.6,404.4 642.6,403.5 C646.6,402.6 662.2,398.8 665,397.5 C667.8,396.2 692.8,381.2 676,387.8 C659.2,394.4 493.2,472.6 463.5,476.5 C433.8,480.4 333.0,438.6 320,434.2 C307.0,429.8 309.2,425.6 308,424 C306.8,422.4 303.6,416.7 305,415.5Z" fill="#fff" />
<path d="M560,419 C563.1,418.1 585.6,419.2 591.3,418.6 C597.0,418.0 612.0,414.2 616.9,413.2 C621.8,412.2 637.7,410.0 640,409 C642.3,408.0 646.5,400.7 640,402.8 C633.5,404.9 583.0,427.4 575,429.9 C567.0,432.4 561.5,429.1 560,428 C558.5,426.9 556.9,419.9 560,419Z" fill="rgb(228,228,255)" />
<path d="M308,418 C309.3,416.7 321.2,413.9 325.1,413 C329.0,412.1 342.4,410.1 346.8,409.5 C351.2,408.9 365.1,407.8 368.6,407.5 C372.1,407.2 378.5,406.7 381.6,406.5 C384.7,406.3 393.8,405.6 400,405.5 C406.2,405.4 436.9,405.4 443.4,405.5 C449.9,405.6 460.8,406.1 465.1,406.8 C469.4,407.5 482.4,411.4 486.8,412.3 C491.2,413.2 504.2,415.0 508.6,415.5 C513.0,416.0 525.2,417.1 530.3,417.7 C535.4,418.2 556.4,420.3 560,421 C563.6,421.7 566.5,424.7 566,425 C565.5,425.3 557.7,424.4 555,424 C552.3,423.6 542.3,420.2 539,420.5 C535.7,420.8 526.8,425.6 521.6,426.5 C516.4,427.4 494.6,429.9 486.8,430 C479.0,430.1 452.1,428.9 443.4,428 C434.7,427.1 404.7,420.8 400,421 C395.3,421.2 396.8,428.1 396,430 C395.2,431.9 394.8,439.1 392,440 C389.2,440.9 372.6,438.9 368,438.5 C363.4,438.1 350.3,436.8 346,436 C341.7,435.2 328.4,432.0 325,431 C321.6,430.0 313.7,427.3 312,426 C310.3,424.7 306.7,419.3 308,418Z" fill="rgb(200,200,255)" />
<path d="M312,419 C314.1,417.5 324.9,414.9 330,414 C335.1,413.1 347.1,411.2 350,412 C352.9,412.8 353.3,417.6 352,420 C350.7,422.4 344.0,428.9 340,430 C336.0,431.1 325.5,428.7 322,428 C318.5,427.3 315.3,426.2 314,425 C312.7,423.8 309.9,420.5 312,419Z" fill="rgb(140,140,255)" />
<path d="M318,420 C319.6,418.9 329.1,416.9 332,417 C334.9,417.1 340.3,419.7 340,421 C339.7,422.3 332.7,426.5 330,427 C327.3,427.5 321.6,425.9 320,425 C318.4,424.1 316.4,421.1 318,420Z" fill="rgb(105,105,255)" />
<path d="M420,411 C421.3,409.7 442.0,410.1 450,410.5 C458.0,410.9 473.3,412.7 480,414 C486.7,415.3 501.3,418.8 500,420 C498.7,421.2 478.0,423.0 470,423 C462.0,423.0 446.7,421.6 440,420 C433.3,418.4 418.7,412.3 420,411Z" fill="rgb(180,180,255)" />
<path d="M440,414 C442.1,413.4 453.5,413.2 458,413.5 C462.5,413.8 474.0,415.6 474,416.5 C474.0,417.4 462.3,419.8 458,420 C453.7,420.2 444.4,418.8 442,418 C439.6,417.2 437.9,414.6 440,414Z" fill="rgb(150,150,255)" />
<path d="M374,424 C375.8,424.2 380.7,424.0 385,425 C389.3,426.0 393.9,428.2 400,430 C406.1,431.8 414.5,434.2 421.7,436 C428.9,437.8 436.2,439.3 443.4,440.5 C450.6,441.7 457.2,442.5 465,443 C472.8,443.5 481.7,443.8 490,443.5 C498.3,443.2 507.0,442.7 515,441.5 C523.0,440.3 534.2,437.3 538,436.5" stroke="#fff" stroke-width="5.5" fill="none"/>
<path d="M380,428.5 C384.4,429.5 398.4,432.7 406.4,434.6 C414.3,436.5 420.6,438.3 427.7,439.7 C434.8,441.1 441.8,441.8 448.9,442.9 C456.0,443.9 463.3,445.1 470.2,446 C477.1,446.9 486.7,447.8 490,448.2" stroke="rgb(255,178,178)" stroke-width="7.5" fill="none" stroke-linecap="round"/>
<path d="M404,434.5 C407.9,435.4 420.2,438.4 427.7,439.9 C435.2,441.3 441.8,442.1 448.9,443.2 C456.0,444.3 464.7,445.6 470.2,446.3 C475.7,447.0 480.0,447.4 482,447.6" stroke="rgb(255,120,120)" stroke-width="4.6" fill="none" stroke-linecap="round"/>
<path d="M418,438 C420.3,438.5 427.2,440.1 432,441 C436.8,441.9 444.5,442.8 447,443.2" stroke="rgb(255,50,50)" stroke-width="3" fill="none" stroke-linecap="round"/>
<path d="M311,425 C312.2,426.0 314.5,429.0 318,431 C321.5,433.0 326.0,436.2 331.9,437 C337.8,437.8 346.1,437.0 353.2,436 C360.3,435.0 368.5,431.4 374.5,431.2 C380.5,431.0 384.8,433.5 389.4,435 C394.0,436.5 397.2,438.4 402.1,440.2 C407.1,442.0 413.1,444.3 419.1,446 C425.1,447.7 431.6,449.1 438.3,450.3 C445.1,451.6 452.5,452.7 459.6,453.5 C466.7,454.3 473.8,455.0 480.9,455.1 C488.0,455.2 495.4,454.8 502.1,454 C508.8,453.2 516.6,451.4 521.3,450.1 C525.9,448.9 528.5,447.1 530,446.5" stroke="rgb(175,175,255)" stroke-width="8" fill="none"/>
<path d="M311,425.6 C312.2,426.6 314.5,429.6 318,431.6 C321.5,433.6 326.0,436.8 331.9,437.6 C337.8,438.4 346.1,437.6 353.2,436.6 C360.3,435.6 368.5,432.0 374.5,431.8 C380.5,431.6 384.8,434.1 389.4,435.6 C394.0,437.1 397.2,439.0 402.1,440.8 C407.1,442.6 413.1,444.9 419.1,446.6 C425.1,448.3 431.6,449.7 438.3,450.90000000000003 C445.1,452.2 452.5,453.3 459.6,454.1 C466.7,454.9 473.8,455.6 480.9,455.70000000000005 C488.0,455.8 495.4,455.4 502.1,454.6 C508.8,453.8 518.1,451.4 521.3,450.70000000000005" stroke="rgb(90,90,255)" stroke-width="4.2" fill="none" stroke-linecap="round"/>
<path d="M325,436.5 C325.6,436.5 329.5,439.6 331.9,439.8 C334.2,440.0 349.6,439.3 353.2,438.8 C356.8,438.3 371.5,434.1 374.5,434.0 C377.5,433.9 387.1,437.1 389.4,437.8 C391.7,438.6 399.6,442.1 402.1,443.0 C404.6,443.9 416.1,448.0 419.1,448.8 C422.1,449.6 434.9,452.5 438.3,453.1 C441.7,453.7 456.1,455.9 459.6,456.3 C463.2,456.7 477.4,457.9 480.9,457.90000000000003 C484.4,457.9 498.7,457.2 502.1,456.8 C505.5,456.4 519.0,453.5 521.3,452.90000000000003 C523.6,452.3 528.0,450.2 530,449.3 C532.0,448.4 542.8,442.9 545,442 C547.2,441.1 562.5,434.8 556,437.9 C549.5,441.0 485.8,479.3 466.5,479.5 C447.2,479.7 336.8,443.6 325,440 C313.2,436.4 324.4,436.5 325,436.5Z" fill="rgb(232,232,232)" />
<path d="M281.6,373.9 L291.0,371.5 L304.0,370.29999999999995 L314.7,369.2 L315.90000000000003,365.0 L324.1,365.6 L325.3,369.7 L337.1,369.2 L349.0,368.6 L356.0,366.2 L363.1,364.4 L369.8,364.4 L372.8,359.7 L370.3,355.2 L375.0,359.2 L379.7,361.5 L391.5,364.4 L403.3,363.2 L414.0,359.7 L419.3,364.2 L427.3,363.7 L433.3,360.2 L438.0,362.5 L442.8,360.9 L453.8,359.0 L457.0,351.9 L463.3,349.9 L472.7,350.29999999999995 L474.3,344.79999999999995 L485.3,345.6 L496.40000000000003,349.5 L507.40000000000003,347.2 L515.3,343.2 L510.6,337.7 L507.40000000000003,332.2 L502.7,325.9 L496.40000000000003,320.4 L488.5,318.79999999999995 L496.40000000000003,318.79999999999995 L512.1999999999999,320.4 L528.0,321.9 L543.6999999999999,324.29999999999995 L556.3,327.5 L564.1999999999999,325.9 L566.8,321.7 L569.3,318.2 L576.0,314.9 L586.8,311.9 L595.5,310.6 L598.0999999999999,306.6 L507.3,271.7Z" fill="#808080" />
<path d="M488.5,319.29999999999995 C486.4,319.5 479.1,320.9 475.90000000000003,320.29999999999995 C472.8,319.7 473.3,316.9 469.6,315.7 C465.9,314.5 458.5,313.8 453.8,313.29999999999995 C449.1,312.8 443.3,312.6 441.2,312.5" stroke="rgb(255,60,60)" stroke-width="1.4" fill="none"/>
<path d="M541.8,289.9 C543.1,290.6 547.6,292.1 549.9,293.9 C552.2,295.6 553.8,298.2 555.4,300.4 C557.0,302.6 558.1,304.7 559.6999999999999,306.9 C561.3,309.1 563.1,311.3 565.0999999999999,313.4 C567.1,315.4 570.5,318.2 571.5999999999999,319.2" stroke="rgb(255,45,45)" stroke-width="3.4" fill="none" stroke-linecap="round"/>
<path d="M555.4,300.4 C557.0,300.2 562.0,298.6 565.0999999999999,299.3 C568.2,300.0 570.9,302.7 573.8,304.7 C576.7,306.7 580.2,309.8 582.5,311.29999999999995 C584.8,312.8 586.5,313.3 587.3,313.7" stroke="rgb(255,60,60)" stroke-width="1.6" fill="none" stroke-linecap="round"/>
<path d="M565.0999999999999,313.4 C565.8,314.1 567.8,316.3 569.3,317.7 C570.8,319.1 573.5,321.0 574.3,321.7" stroke="rgb(255,45,45)" stroke-width="6" fill="none" stroke-linecap="round"/>
<path d="M262,417.0 L267.5,417.9 L279.9,421.3 L288.8,419.7 L299.5,420.2 L304.8,418.8 L306.6,422.2 L311,427.5 L316,433.0 L318,436 L262,420Z" fill="#808080" />
<ellipse cx="518.3" cy="340.9" rx="3.2" ry="1.5" fill="#808080" transform="rotate(12 518.3 340.9)"/>
<ellipse cx="533.3" cy="344.0" rx="7" ry="3" fill="#808080" transform="rotate(12 533.3 344.0)"/>
<ellipse cx="546.8" cy="340.9" rx="4.5" ry="1.5" fill="#808080" transform="rotate(12 546.8 340.9)"/>
<ellipse cx="553.3" cy="343.5" rx="3" ry="1.1" fill="#808080" transform="rotate(12 553.3 343.5)"/>
<ellipse cx="561.8" cy="341.2" rx="2.4" ry="1.1" fill="#808080" transform="rotate(12 561.8 341.2)"/>
<ellipse cx="519.3" cy="349.5" rx="2.4" ry="1.4" fill="#808080" transform="rotate(12 519.3 349.5)"/>
<ellipse cx="530.3" cy="350.29999999999995" rx="2.4" ry="0.9" fill="#808080" transform="rotate(12 530.3 350.29999999999995)"/>
<ellipse cx="539.8" cy="349.9" rx="2.4" ry="1.1" fill="#808080" transform="rotate(12 539.8 349.9)"/>
<ellipse cx="369.6" cy="374.3" rx="1.4" ry="0.9" fill="#999"/>
<ellipse cx="329" cy="379.1" rx="2.6" ry="1.5" fill="#000"/>
<ellipse cx="382.2" cy="374.7" rx="2.6" ry="1.5" fill="#000"/>
<ellipse cx="389.6" cy="380.2" rx="2.6" ry="1.5" fill="#0000f0"/>
<ellipse cx="396.3" cy="385.6" rx="2.6" ry="1.5" fill="#f00000"/>
<ellipse cx="442.3" cy="370.1" rx="2.6" ry="1.5" fill="#0000f0"/>
<ellipse cx="439.1" cy="376.2" rx="2.6" ry="1.5" fill="#f00000"/>
<ellipse cx="481.4" cy="362.1" rx="2.6" ry="1.5" fill="#f00000"/>
<ellipse cx="478.8" cy="369" rx="2.6" ry="1.5" fill="#f00000"/>
<ellipse cx="474.3" cy="374" rx="2.6" ry="1.5" fill="#f00000"/>
<ellipse cx="473.8" cy="380.3" rx="2.6" ry="1.5" fill="#0000f0"/>
<ellipse cx="484.2" cy="377" rx="2.6" ry="1.5" fill="#000"/>
<ellipse cx="493.4" cy="374.4" rx="2.6" ry="1.5" fill="#f00000"/>
<ellipse cx="501.6" cy="371.2" rx="2.6" ry="1.5" fill="#000"/>
<ellipse cx="519.4" cy="363.2" rx="2.6" ry="1.5" fill="#f00000"/>
<ellipse cx="529.2" cy="359.9" rx="2.6" ry="1.5" fill="#f00000"/>
<ellipse cx="536.8" cy="362.1" rx="2.6" ry="1.5" fill="#0000f0"/>
<ellipse cx="541.6" cy="356.4" rx="2.6" ry="1.5" fill="#000"/>
<ellipse cx="549.8" cy="361.9" rx="2.6" ry="1.5" fill="#000"/>
<ellipse cx="549.8" cy="350.8" rx="2.6" ry="1.5" fill="#f00000"/>
<ellipse cx="557.4" cy="369.4" rx="2.6" ry="1.5" fill="#000"/>
<ellipse cx="575.6" cy="330.1" rx="2.6" ry="1.5" fill="#000"/>
<ellipse cx="593.4" cy="334.7" rx="2.6" ry="1.5" fill="#0000f0"/>
<ellipse cx="611.4" cy="337.5" rx="2.6" ry="1.5" fill="#000"/>
</g></g>
<text transform="matrix(1.129,0.354,-1.136,0.698,197.9,154.2)" x="0" y="4.3" text-anchor="middle" style="font-size:12.0px;fill:#000">25</text>
<text transform="matrix(1.129,0.354,-1.136,0.698,240.3,137.9)" x="0" y="4.3" text-anchor="middle" style="font-size:12.0px;fill:#000">26</text>
<text transform="matrix(1.129,0.354,-1.136,0.698,282.6,120.1)" x="0" y="4.3" text-anchor="middle" style="font-size:12.0px;fill:#000">27</text>
<text transform="matrix(1.129,0.354,-1.136,0.698,324.8,102.4)" x="0" y="4.3" text-anchor="middle" style="font-size:12.0px;fill:#000">28</text>
<text transform="matrix(1.129,0.354,-1.136,0.698,367.0,84.7)" x="0" y="4.3" text-anchor="middle" style="font-size:12.0px;fill:#000">29</text>
<text transform="matrix(1.129,0.354,-1.136,0.698,409.2,67.0)" x="0" y="4.3" text-anchor="middle" style="font-size:12.0px;fill:#000">30</text>
<text transform="matrix(1.129,0.354,-1.136,0.698,451.5,49.2)" x="0" y="4.3" text-anchor="middle" style="font-size:12.0px;fill:#000">31</text>
<text transform="matrix(1.129,0.354,-1.136,0.698,493.7,31.5)" x="0" y="4.3" text-anchor="middle" style="font-size:12.0px;fill:#000">32</text>
<text transform="matrix(1.129,0.354,-1.136,0.698,195.9,168.7)" x="0" y="4.3" text-anchor="middle" style="font-size:12.0px;fill:#000">120</text>
<text transform="matrix(1.129,0.354,-1.136,0.698,245.6,181.5)" x="0" y="4.3" text-anchor="middle" style="font-size:12.0px;fill:#000">121</text>
<text transform="matrix(1.129,0.354,-1.136,0.698,296.0,196.4)" x="0" y="4.3" text-anchor="middle" style="font-size:12.0px;fill:#000">122</text>
<text transform="matrix(1.129,0.354,-1.136,0.698,346.3,211.2)" x="0" y="4.3" text-anchor="middle" style="font-size:12.0px;fill:#000">123</text>
<text transform="matrix(1.129,0.354,-1.136,0.698,396.7,226.1)" x="0" y="4.3" text-anchor="middle" style="font-size:12.0px;fill:#000">124</text>
<text transform="matrix(1.129,0.354,-1.136,0.698,447.1,240.9)" x="0" y="4.3" text-anchor="middle" style="font-size:12.0px;fill:#000">125</text>
<text transform="matrix(1.336,0.419,-1.385,0.850,247.9,197.8)" x="0" y="0" style="font-size:12.0px;fill:#000">Longitude (°E)</text>
<text transform="matrix(1.186,-0.444,1.650,0.699,281.2,105.0)" x="0" y="0" style="font-size:12.0px;fill:#000">Latitude (°N)</text>
<text transform="matrix(1.129,0.354,-1.136,0.698,201.9,395.9)" x="0" y="4.3" text-anchor="middle" style="font-size:12.0px;fill:#000">25</text>
<text transform="matrix(1.129,0.354,-1.136,0.698,244.2,379.6)" x="0" y="4.3" text-anchor="middle" style="font-size:12.0px;fill:#000">26</text>
<text transform="matrix(1.129,0.354,-1.136,0.698,286.3,361.9)" x="0" y="4.3" text-anchor="middle" style="font-size:12.0px;fill:#000">27</text>
<text transform="matrix(1.129,0.354,-1.136,0.698,328.4,344.2)" x="0" y="4.3" text-anchor="middle" style="font-size:12.0px;fill:#000">28</text>
<text transform="matrix(1.129,0.354,-1.136,0.698,370.5,326.4)" x="0" y="4.3" text-anchor="middle" style="font-size:12.0px;fill:#000">29</text>
<text transform="matrix(1.129,0.354,-1.136,0.698,412.6,308.7)" x="0" y="4.3" text-anchor="middle" style="font-size:12.0px;fill:#000">30</text>
<text transform="matrix(1.129,0.354,-1.136,0.698,454.7,291.0)" x="0" y="4.3" text-anchor="middle" style="font-size:12.0px;fill:#000">31</text>
<text transform="matrix(1.129,0.354,-1.136,0.698,496.8,273.3)" x="0" y="4.3" text-anchor="middle" style="font-size:12.0px;fill:#000">32</text>
<text transform="matrix(1.129,0.354,-1.136,0.698,199.9,410.4)" x="0" y="4.3" text-anchor="middle" style="font-size:12.0px;fill:#000">120</text>
<text transform="matrix(1.129,0.354,-1.136,0.698,249.4,423.2)" x="0" y="4.3" text-anchor="middle" style="font-size:12.0px;fill:#000">121</text>
<text transform="matrix(1.129,0.354,-1.136,0.698,299.6,438.0)" x="0" y="4.3" text-anchor="middle" style="font-size:12.0px;fill:#000">122</text>
<text transform="matrix(1.129,0.354,-1.136,0.698,349.9,452.9)" x="0" y="4.3" text-anchor="middle" style="font-size:12.0px;fill:#000">123</text>
<text transform="matrix(1.129,0.354,-1.136,0.698,400.1,467.7)" x="0" y="4.3" text-anchor="middle" style="font-size:12.0px;fill:#000">124</text>
<text transform="matrix(1.129,0.354,-1.136,0.698,450.3,482.5)" x="0" y="4.3" text-anchor="middle" style="font-size:12.0px;fill:#000">125</text>
<text transform="matrix(1.336,0.419,-1.385,0.850,251.9,439.5)" x="0" y="0" style="font-size:12.0px;fill:#000">Longitude (°E)</text>
<text transform="matrix(1.186,-0.444,1.650,0.699,285.2,346.7)" x="0" y="0" style="font-size:12.0px;fill:#000">Latitude (°N)</text>
<text transform="translate(586.5,58.5) rotate(16.5)" style="font-size:15px;font-weight:bold;fill:#000">surface</text>
<text transform="translate(597.2,288.8) rotate(15)" style="font-size:14.5px;font-weight:bold;fill:#000">Depth<tspan dy="4" style="font-size:9px">1/2</tspan></text>
<defs><linearGradient id="gsh" x1="0" x2="1" y1="0" y2="0"><stop offset="0" stop-color="#b5820e"/><stop offset="0.5" stop-color="#d2a43c"/><stop offset="1" stop-color="#b5820e"/></linearGradient></defs>
<rect x="362.6" y="140" width="8" height="206.5" fill="url(#gsh)" opacity="0.9"/>
<path d="M366.4,134.7 L374.4,141.6 L358.6,141.6 Z" fill="#c0902a"/>
<path d="M359.4,140 V345" stroke="#b5860f" stroke-width="1.1" fill="none" stroke-dasharray="4.2 2.8"/>
<path d="M373,140 V345" stroke="#b5860f" stroke-width="1.1" fill="none" stroke-dasharray="4.2 2.8"/>
<path d="M359.4,140.3 L353.2,140.1 L366.4,129.3 L379.6,140.5 L373,140.5" stroke="#b5860f" stroke-width="1.1" fill="none" stroke-dasharray="4.2 2.8"/>
<ellipse cx="366.4" cy="132.9" rx="1.3" ry="0.9" fill="#9a9a9a"/>
<path d="M384.7,367.3 L372.8,353.8 L375.7,351.3 L366.5,351.3 L365.1,360.5 L368,358 L379.9,371.5 Z" fill="rgba(190,142,40,0.92)" stroke="#b5860f" stroke-width="0.6" stroke-linejoin="round"/>
<path d="M330.6,433.4 C333.0,431.8 340.5,426.5 345,424 C349.5,421.5 353.1,419.7 357.7,418.2 C362.3,416.7 368.2,414.9 372.9,414.9 C377.6,414.9 381.4,416.4 385.9,418.2 C390.4,419.9 394.3,423.5 400,425.4 C405.7,427.3 412.8,428.3 420,429.7 C427.2,431.1 435.5,432.6 443,433.5 C450.5,434.4 457.8,434.8 465,435 C472.2,435.2 478.7,435.2 486,435 C493.3,434.8 501.3,434.5 508.6,434 C515.9,433.5 524.1,432.6 530,431.8 C535.9,431.0 541.7,429.7 544,429.3" stroke="#b5860f" stroke-width="3.2" fill="none"/>
<path d="M533.5,425 L545.9,429 L536.8,436.6" stroke="#b5860f" stroke-width="2.6" fill="none"/>
<path d="M385.9,411.6 C386.6,409.4 387.8,402.9 390.3,398.6 C392.8,394.3 397.3,388.9 401.1,385.6 C404.9,382.3 408.5,380.7 413,379 C417.5,377.3 425.5,375.8 428,375.2" stroke="#b5860f" stroke-width="3.2" fill="none"/>
<path d="M421.7,370.1 L429.3,374.9 L420.6,381" stroke="#b5860f" stroke-width="2.6" fill="none"/>
<path d="M334,437.5 C335.0,434.6 337.0,424.2 340,420 C343.0,415.8 346.5,413.9 352,412 C357.5,410.1 366.9,408.7 372.9,408.5 C378.9,408.3 383.5,409.3 388,411 C392.5,412.7 390.8,416.3 400,418.9 C409.2,421.5 428.9,424.8 443.4,426.4 C457.9,428.0 473.8,428.8 486.8,428.6 C499.8,428.4 512.9,427.0 521.6,425.4 C530.3,423.8 533.4,419.4 539,418.9 C544.6,418.3 552.5,421.6 555.2,422.1 L545.5,441.6" stroke="#b5860f" stroke-width="1.1" fill="none" stroke-dasharray="4.2 2.8"/>
<path d="M334,440 C336.7,438.5 345.3,433.6 350,431 C354.7,428.4 358.0,426.1 362,424.5 C366.0,422.9 370.0,421.5 374,421.5 C378.0,421.5 381.7,422.8 386,424.5 C390.3,426.2 390.4,429.4 400,431.9 C409.6,434.4 428.9,437.7 443.4,439.5 C457.9,441.3 473.8,442.7 486.8,442.7 C499.8,442.7 511.8,439.7 521.6,439.5 C531.4,439.3 541.5,441.2 545.5,441.6" stroke="#b5860f" stroke-width="1.1" fill="none" stroke-dasharray="4.2 2.8"/>
<path d="M378,412 C378.7,409.7 379.5,402.8 382,398 C384.5,393.2 388.3,387.3 393,383 C397.7,378.7 407.2,373.8 410,372 L419.5,364 L443.9,364.6 L442.8,384.2" stroke="#b5860f" stroke-width="1.1" fill="none" stroke-dasharray="4.2 2.8"/>
<path d="M393,412 C393.7,410.2 394.5,404.5 397,401 C399.5,397.5 403.8,393.6 408,391 C412.2,388.4 416.2,386.6 422,385.5 C427.8,384.4 439.3,384.4 442.8,384.2" stroke="#b5860f" stroke-width="1.1" fill="none" stroke-dasharray="4.2 2.8"/>
<ellipse cx="5.9" cy="21.3" rx="5.4" ry="4" fill="#000"/>
<circle cx="5.7" cy="48.9" r="3.7" fill="#f00" stroke="#400" stroke-width="0.8"/>
<ellipse cx="7.1" cy="83.9" rx="5.3" ry="3.5" fill="#1010e0" stroke="#003" stroke-width="0.6"/>
<text x="18.9" y="25.5" style="font-size:13.5px;fill:#000">Stations in Group I (outside the upwelling)</text>
<text x="18.9" y="46.6" style="font-size:13.5px;fill:#000">Stations in Group II (in the center of the</text>
<text x="18.9" y="61.0" style="font-size:13.5px;fill:#000">upwelling)</text>
<text x="18.9" y="80.4" style="font-size:13.5px;fill:#000">Stations in Group III (on the periphery of the</text>
<text x="18.9" y="95.0" style="font-size:13.5px;fill:#000">upwelling)</text>
<rect x="144.2" y="161.0" width="16.9" height="244.6" fill="rgb(100,100,255)"/>
<rect x="144.2" y="331.4" width="16.9" height="10.9" fill="rgb(116,116,255)"/>
<rect x="144.2" y="320.8" width="16.9" height="10.9" fill="rgb(131,131,255)"/>
<rect x="144.2" y="310.2" width="16.9" height="10.9" fill="rgb(146,146,255)"/>
<rect x="144.2" y="299.6" width="16.9" height="10.9" fill="rgb(162,162,255)"/>
<rect x="144.2" y="289.0" width="16.9" height="10.9" fill="rgb(178,178,255)"/>
<rect x="144.2" y="278.4" width="16.9" height="10.9" fill="rgb(193,193,255)"/>
<rect x="144.2" y="267.8" width="16.9" height="10.9" fill="rgb(208,208,255)"/>
<rect x="144.2" y="257.2" width="16.9" height="10.9" fill="rgb(224,224,255)"/>
<rect x="144.2" y="246.6" width="16.9" height="10.9" fill="rgb(240,240,255)"/>
<rect x="144.2" y="236.0" width="16.9" height="10.9" fill="#fff"/>
<rect x="144.2" y="225.4" width="16.9" height="10.9" fill="rgb(255,191,191)"/>
<rect x="144.2" y="214.8" width="16.9" height="10.9" fill="rgb(255,128,128)"/>
<rect x="144.2" y="204.2" width="16.9" height="10.9" fill="rgb(255,64,64)"/>
<rect x="144.2" y="161.0" width="16.9" height="43.5" fill="rgb(255,0,0)"/>
<text x="164" y="408.8" style="font-size:9px;fill:#000">10</text>
<text x="164" y="366.4" style="font-size:9px;fill:#000">14</text>
<text x="164" y="324.0" style="font-size:9px;fill:#000">18</text>
<text x="164" y="281.6" style="font-size:9px;fill:#000">22</text>
<text x="164" y="239.2" style="font-size:9px;fill:#000">26</text>
<text x="164" y="196.8" style="font-size:9px;fill:#000">30</text>
<text transform="translate(130.8,285.8) rotate(-90)" text-anchor="middle" style="font-size:11.8px;font-weight:bold;fill:#000">Temperature (°C)</text>
<text x="823.7" y="21" style="font-size:17.5px;font-weight:bold;fill:#000">Relative contribution of dinoflagellates / diatoms</text>
<path d="M965.6,137.6 L985.1,137.6 L1006.3,138.5 L1025.8,139.9 L1034.0,135.9 L1045.4,127.8 L1055.1,116.4 L1060.0,125.5 L1064.9,116.4 L1069.8,96.2 L1076.3,95.2 L1084.4,90.4 L1094.2,69.2 L1098.4,80.6 L1102.4,95.2 L1102.4,129.4 L1098.4,132.7 L1094.2,137.6 L1084.4,135.3 L1076.3,139.9 L1069.8,139.2 L1064.9,149.0 L1060.0,153.9 L1055.1,173.4 L1045.4,163.6 L1034.0,166.9 L1025.8,167.9 L1005.3,151.6 L985.1,173.4 L965.6,147.3Z" fill="#b9b9b9" />
<path d="M965.6,145.7 C967.2,146.3 972.1,148.8 975.4,149.6 C978.6,150.4 981.8,150.7 985.1,150.6 C988.5,150.5 992.1,149.6 995.5,149.0 C998.9,148.4 1001.9,147.4 1005.3,147.3 C1008.7,147.2 1012.7,148.1 1016.1,148.3 C1019.5,148.5 1022.5,148.6 1025.8,148.3 C1029.0,148.0 1032.3,147.4 1035.6,146.7 C1038.9,146.0 1042.0,145.6 1045.4,144.1 C1048.8,142.6 1053.5,139.0 1056.1,137.6 C1058.6,136.2 1059.1,137.2 1060.7,135.9 C1062.3,134.7 1064.0,132.0 1065.6,130.1 C1067.2,128.2 1068.7,125.3 1070.4,124.5 C1072.1,123.7 1073.1,126.2 1075.6,125.5 C1078.1,124.8 1082.1,121.4 1085.4,120.3 C1088.7,119.2 1092.3,119.0 1095.2,118.7 C1098.1,118.4 1101.7,118.5 1103.0,118.4" stroke="#000" stroke-width="0.8" fill="none"/>
<circle cx="965.6" cy="145.7" r="1.1" fill="#000"/>
<circle cx="986.1" cy="153.9" r="1.1" fill="#000"/>
<circle cx="1005.6" cy="144.4" r="1.1" fill="#000"/>
<circle cx="1025.8" cy="150.6" r="1.1" fill="#000"/>
<circle cx="1045.4" cy="144.7" r="1.1" fill="#000"/>
<circle cx="1056.1" cy="137.2" r="1.1" fill="#000"/>
<circle cx="1060.7" cy="136.6" r="1.1" fill="#000"/>
<circle cx="1065.6" cy="130.1" r="1.1" fill="#000"/>
<circle cx="1070.4" cy="123.2" r="1.1" fill="#000"/>
<circle cx="1075.6" cy="127.2" r="1.1" fill="#000"/>
<circle cx="1085.4" cy="120.0" r="1.1" fill="#000"/>
<circle cx="1095.2" cy="118.7" r="1.1" fill="#000"/>
<circle cx="1103.0" cy="118.4" r="1.1" fill="#000"/>
<path d="M945.1,54.5 L945.1,181.5 L1120.3,181.5" stroke="#222" stroke-width="0.7" fill="none"/>
<path d="M945.1,181.5 v2.5" stroke="#000" stroke-width="0.7"/>
<text x="945.1" y="190.0" text-anchor="middle" style="font-size:6px;fill:#000">1860</text>
<path d="M967.0,181.5 v2.5" stroke="#000" stroke-width="0.7"/>
<text x="967.0" y="190.0" text-anchor="middle" style="font-size:6px;fill:#000">1880</text>
<path d="M988.9,181.5 v2.5" stroke="#000" stroke-width="0.7"/>
<text x="988.9" y="190.0" text-anchor="middle" style="font-size:6px;fill:#000">1900</text>
<path d="M1010.8,181.5 v2.5" stroke="#000" stroke-width="0.7"/>
<text x="1010.8" y="190.0" text-anchor="middle" style="font-size:6px;fill:#000">1920</text>
<path d="M1032.7,181.5 v2.5" stroke="#000" stroke-width="0.7"/>
<text x="1032.7" y="190.0" text-anchor="middle" style="font-size:6px;fill:#000">1940</text>
<path d="M1054.6,181.5 v2.5" stroke="#000" stroke-width="0.7"/>
<text x="1054.6" y="190.0" text-anchor="middle" style="font-size:6px;fill:#000">1960</text>
<path d="M1076.5,181.5 v2.5" stroke="#000" stroke-width="0.7"/>
<text x="1076.5" y="190.0" text-anchor="middle" style="font-size:6px;fill:#000">1980</text>
<path d="M1098.4,181.5 v2.5" stroke="#000" stroke-width="0.7"/>
<text x="1098.4" y="190.0" text-anchor="middle" style="font-size:6px;fill:#000">2000</text>
<path d="M1120.3,181.5 v2.5" stroke="#000" stroke-width="0.7"/>
<text x="1120.3" y="190.0" text-anchor="middle" style="font-size:6px;fill:#000">2020</text>
<path d="M945.1,59.4 h-2.5" stroke="#000" stroke-width="0.7"/>
<text x="941.3000000000001" y="61.5" text-anchor="end" style="font-size:6px;fill:#000">1.2</text>
<path d="M945.1,83.9 h-2.5" stroke="#000" stroke-width="0.7"/>
<text x="941.3000000000001" y="86.0" text-anchor="end" style="font-size:6px;fill:#000">0.8</text>
<path d="M945.1,108.3 h-2.5" stroke="#000" stroke-width="0.7"/>
<text x="941.3000000000001" y="110.39999999999999" text-anchor="end" style="font-size:6px;fill:#000">0.4</text>
<path d="M945.1,132.7 h-2.5" stroke="#000" stroke-width="0.7"/>
<text x="941.3000000000001" y="134.79999999999998" text-anchor="end" style="font-size:6px;fill:#000">0.0</text>
<path d="M945.1,157.1 h-2.5" stroke="#000" stroke-width="0.7"/>
<text x="941.3000000000001" y="159.2" text-anchor="end" style="font-size:6px;fill:#000">-0.4</text>
<path d="M945.1,181.5 h-2.5" stroke="#000" stroke-width="0.7"/>
<text x="941.3000000000001" y="183.6" text-anchor="end" style="font-size:6px;fill:#000">-0.8</text>
<path d="M956.1,181.5 v1.5" stroke="#000" stroke-width="0.6"/>
<path d="M978.0,181.5 v1.5" stroke="#000" stroke-width="0.6"/>
<path d="M999.9,181.5 v1.5" stroke="#000" stroke-width="0.6"/>
<path d="M1021.8,181.5 v1.5" stroke="#000" stroke-width="0.6"/>
<path d="M1043.7,181.5 v1.5" stroke="#000" stroke-width="0.6"/>
<path d="M1065.5,181.5 v1.5" stroke="#000" stroke-width="0.6"/>
<path d="M1087.5,181.5 v1.5" stroke="#000" stroke-width="0.6"/>
<path d="M1109.3,181.5 v1.5" stroke="#000" stroke-width="0.6"/>
<path d="M945.1,71.6 h-1.5" stroke="#000" stroke-width="0.6"/>
<path d="M945.1,96.1 h-1.5" stroke="#000" stroke-width="0.6"/>
<path d="M945.1,120.5 h-1.5" stroke="#000" stroke-width="0.6"/>
<path d="M945.1,144.9 h-1.5" stroke="#000" stroke-width="0.6"/>
<path d="M945.1,169.3 h-1.5" stroke="#000" stroke-width="0.6"/>
<text transform="translate(925.8,116.4) rotate(-90)" text-anchor="middle" style="font-size:6.5px;fill:#000">D/B anomaly</text>
<path d="M946,48.7 H962.3" stroke="#000" stroke-width="0.8"/><circle cx="954.2" cy="48.7" r="1.1" fill="#000"/>
<text x="966.2" y="51.4" style="font-size:7.8px;font-weight:bold;fill:#000">Group I-anomaly</text>
<path d="M959.2,251.4 L966.6,245.1 L973.8,232.2 L980.7,245.1 L987.8,239.3 L995.0,233.6 L1003.0,242.2 L1010.1,252.2 L1017.3,233.6 L1023.6,208.7 L1031.0,253.7 L1038.2,254.2 L1045.3,257.4 L1052.5,258.5 L1059.6,259.4 L1066.8,247.9 L1074.5,273.7 L1081.7,276.5 L1088.8,278.0 L1096.0,278.0 L1096.0,315.7 L1088.8,300.9 L1081.7,289.4 L1074.5,280.8 L1066.8,280.8 L1059.6,279.4 L1052.5,292.3 L1045.3,286.6 L1038.2,278.0 L1031.0,273.7 L1023.6,266.5 L1017.3,260.8 L1010.1,262.2 L1003.0,266.5 L995.0,270.8 L987.8,285.1 L980.7,254.2 L973.8,253.7 L966.6,263.7 L959.2,267.4Z" fill="#d2d2d2" />
<path d="M959.2,257.9 C960.4,256.9 964.2,253.7 966.6,251.7 C969.0,249.7 971.4,246.2 973.8,245.9 C976.1,245.6 978.4,248.0 980.7,249.9 C983.0,251.8 985.4,257.0 987.8,257.4 C990.2,257.8 992.5,252.9 995.0,252.2 C997.5,251.5 1000.5,252.6 1003.0,253.1 C1005.5,253.6 1007.7,255.4 1010.1,255.1 C1012.5,254.8 1015.0,252.3 1017.3,251.4 C1019.5,250.5 1021.3,247.7 1023.6,249.4 C1025.9,251.1 1028.6,258.8 1031.0,261.4 C1033.4,264.0 1035.8,263.8 1038.2,265.1 C1040.6,266.4 1042.9,268.0 1045.3,269.4 C1047.7,270.8 1050.1,273.6 1052.5,273.7 C1054.9,273.8 1057.2,270.9 1059.6,270.0 C1062.0,269.1 1064.3,267.0 1066.8,268.0 C1069.3,269.0 1072.0,273.6 1074.5,276.0 C1077.0,278.4 1079.3,280.4 1081.7,282.3 C1084.1,284.2 1086.4,284.9 1088.8,287.1 C1091.2,289.3 1094.8,294.3 1096.0,295.7" stroke="#e01010" stroke-width="0.8" fill="none"/>
<circle cx="959.2" cy="257.9" r="1.1" fill="#e00000"/>
<circle cx="966.6" cy="252.2" r="1.1" fill="#e00000"/>
<circle cx="973.8" cy="244.5" r="1.1" fill="#e00000"/>
<circle cx="980.7" cy="248.8" r="1.1" fill="#e00000"/>
<circle cx="987.8" cy="260.2" r="1.1" fill="#e00000"/>
<circle cx="995.0" cy="250.8" r="1.1" fill="#e00000"/>
<circle cx="1003.0" cy="252.8" r="1.1" fill="#e00000"/>
<circle cx="1010.1" cy="255.9" r="1.1" fill="#e00000"/>
<circle cx="1017.3" cy="252.2" r="1.1" fill="#e00000"/>
<circle cx="1024.4" cy="246.5" r="1.1" fill="#e00000"/>
<circle cx="1031.0" cy="264.5" r="1.1" fill="#e00000"/>
<circle cx="1038.2" cy="264.2" r="1.1" fill="#e00000"/>
<circle cx="1045.3" cy="268.8" r="1.1" fill="#e00000"/>
<circle cx="1053.0" cy="277.4" r="1.1" fill="#e00000"/>
<circle cx="1059.6" cy="269.7" r="1.1" fill="#e00000"/>
<circle cx="1066.8" cy="266.8" r="1.1" fill="#e00000"/>
<circle cx="1074.5" cy="276.5" r="1.1" fill="#e00000"/>
<circle cx="1081.7" cy="282.8" r="1.1" fill="#e00000"/>
<circle cx="1088.8" cy="286.6" r="1.1" fill="#e00000"/>
<circle cx="1096.0" cy="296.0" r="1.1" fill="#e00000"/>
<path d="M945.75,201.3 L945.75,329.5 L1120.3,329.5" stroke="#222" stroke-width="0.7" fill="none"/>
<path d="M964.3,329.5 v2.5" stroke="#000" stroke-width="0.7"/>
<text x="964.3" y="338.0" text-anchor="middle" style="font-size:6px;fill:#000">1940</text>
<path d="M1003.3,329.5 v2.5" stroke="#000" stroke-width="0.7"/>
<text x="1003.3" y="338.0" text-anchor="middle" style="font-size:6px;fill:#000">1960</text>
<path d="M1042.3,329.5 v2.5" stroke="#000" stroke-width="0.7"/>
<text x="1042.3" y="338.0" text-anchor="middle" style="font-size:6px;fill:#000">1980</text>
<path d="M1081.3,329.5 v2.5" stroke="#000" stroke-width="0.7"/>
<text x="1081.3" y="338.0" text-anchor="middle" style="font-size:6px;fill:#000">2000</text>
<path d="M1120.3,329.5 v2.5" stroke="#000" stroke-width="0.7"/>
<text x="1120.3" y="338.0" text-anchor="middle" style="font-size:6px;fill:#000">2020</text>
<path d="M945.75,202.1 h-2.5" stroke="#000" stroke-width="0.7"/>
<text x="941.95" y="204.2" text-anchor="end" style="font-size:6px;fill:#000">1.5</text>
<path d="M945.75,223.3 h-2.5" stroke="#000" stroke-width="0.7"/>
<text x="941.95" y="225.4" text-anchor="end" style="font-size:6px;fill:#000">1.0</text>
<path d="M945.75,244.5 h-2.5" stroke="#000" stroke-width="0.7"/>
<text x="941.95" y="246.6" text-anchor="end" style="font-size:6px;fill:#000">0.5</text>
<path d="M945.75,265.7 h-2.5" stroke="#000" stroke-width="0.7"/>
<text x="941.95" y="267.8" text-anchor="end" style="font-size:6px;fill:#000">0.0</text>
<path d="M945.75,286.9 h-2.5" stroke="#000" stroke-width="0.7"/>
<text x="941.95" y="289.0" text-anchor="end" style="font-size:6px;fill:#000">-0.5</text>
<path d="M945.75,308.1 h-2.5" stroke="#000" stroke-width="0.7"/>
<text x="941.95" y="310.20000000000005" text-anchor="end" style="font-size:6px;fill:#000">-1.0</text>
<path d="M945.75,329.3 h-2.5" stroke="#000" stroke-width="0.7"/>
<text x="941.95" y="331.40000000000003" text-anchor="end" style="font-size:6px;fill:#000">-1.5</text>
<path d="M983.8,329.5 v1.5" stroke="#000" stroke-width="0.6"/>
<path d="M1022.8,329.5 v1.5" stroke="#000" stroke-width="0.6"/>
<path d="M1061.8,329.5 v1.5" stroke="#000" stroke-width="0.6"/>
<path d="M1100.8,329.5 v1.5" stroke="#000" stroke-width="0.6"/>
<path d="M945.75,212.7 h-1.5" stroke="#000" stroke-width="0.6"/>
<path d="M945.75,233.9 h-1.5" stroke="#000" stroke-width="0.6"/>
<path d="M945.75,255.1 h-1.5" stroke="#000" stroke-width="0.6"/>
<path d="M945.75,276.3 h-1.5" stroke="#000" stroke-width="0.6"/>
<path d="M945.75,297.5 h-1.5" stroke="#000" stroke-width="0.6"/>
<path d="M945.75,318.7 h-1.5" stroke="#000" stroke-width="0.6"/>
<text transform="translate(925.8,265.7) rotate(-90)" text-anchor="middle" style="font-size:6.5px;fill:#000">D/B anomaly</text>
<path d="M952.9,322.3 H971.5" stroke="#e01010" stroke-width="0.8"/><circle cx="962.3" cy="322.3" r="1.1" fill="#e00000"/>
<text x="974.4" y="325.2" style="font-size:8.3px;font-weight:bold;fill:#000">Group II-anomaly</text>
<path d="M959.2,431.6 L965.8,432.1 L973.8,431.0 L981.5,431.6 L990.1,416.7 L998.7,415.0 L1005.8,425.8 L1015.9,398.7 L1023.9,391.5 L1032.2,401.5 L1040.2,397.2 L1048.8,390.9 L1057.3,373.8 L1065.9,388.6 L1074.5,404.4 L1082.5,400.1 L1090.8,420.1 L1098.8,411.5 L1098.8,436.7 L1090.8,439.6 L1082.5,445.3 L1074.5,428.7 L1065.9,415.8 L1057.3,404.4 L1048.8,397.2 L1040.2,408.1 L1032.2,406.4 L1023.9,401.5 L1015.9,408.7 L1005.8,428.1 L998.7,431.0 L990.1,427.3 L981.5,441.6 L973.8,444.4 L965.8,444.4 L959.2,450.2Z" fill="#d2d2d2" />
<path d="M959.2,441.0 C960.3,440.6 963.4,439.2 965.8,438.7 C968.2,438.2 971.2,438.5 973.8,437.9 C976.4,437.3 978.8,437.4 981.5,435.0 C984.2,432.6 987.2,425.5 990.1,423.5 C993.0,421.5 995.9,422.7 998.7,423.0 C1001.5,423.3 1003.8,428.6 1006.7,425.3 C1009.6,422.1 1013.0,408.2 1015.9,403.5 C1018.8,398.8 1021.2,397.3 1023.9,397.2 C1026.6,397.1 1029.5,402.3 1032.2,402.9 C1034.9,403.5 1037.4,402.3 1040.2,400.9 C1043.0,399.5 1046.0,395.7 1048.8,394.4 C1051.6,393.1 1054.4,392.0 1057.3,393.2 C1060.2,394.4 1063.0,397.5 1065.9,401.5 C1068.8,405.5 1071.7,413.2 1074.5,417.3 C1077.3,421.4 1079.8,423.8 1082.5,425.8 C1085.2,427.8 1088.1,429.4 1090.8,429.3 C1093.5,429.2 1097.5,425.7 1098.8,425.0" stroke="#1010e0" stroke-width="0.8" fill="none"/>
<circle cx="959.2" cy="441.0" r="1.1" fill="#0000e0"/>
<circle cx="965.8" cy="438.7" r="1.1" fill="#0000e0"/>
<circle cx="973.8" cy="437.6" r="1.1" fill="#0000e0"/>
<circle cx="982.4" cy="436.4" r="1.1" fill="#0000e0"/>
<circle cx="990.7" cy="421.8" r="1.1" fill="#0000e0"/>
<circle cx="998.7" cy="422.7" r="1.1" fill="#0000e0"/>
<circle cx="1006.7" cy="427.8" r="1.1" fill="#0000e0"/>
<circle cx="1015.9" cy="401.5" r="1.1" fill="#0000e0"/>
<circle cx="1023.9" cy="396.1" r="1.1" fill="#0000e0"/>
<circle cx="1032.2" cy="403.2" r="1.1" fill="#0000e0"/>
<circle cx="1040.2" cy="401.8" r="1.1" fill="#0000e0"/>
<circle cx="1048.8" cy="393.2" r="1.1" fill="#0000e0"/>
<circle cx="1057.3" cy="393.2" r="1.1" fill="#0000e0"/>
<circle cx="1065.9" cy="400.1" r="1.1" fill="#0000e0"/>
<circle cx="1074.5" cy="418.7" r="1.1" fill="#0000e0"/>
<circle cx="1082.5" cy="426.4" r="1.1" fill="#0000e0"/>
<circle cx="1090.8" cy="430.7" r="1.1" fill="#0000e0"/>
<circle cx="1098.8" cy="425.0" r="1.1" fill="#0000e0"/>
<path d="M945.2,355.7 L945.2,460.7 L1120.3,460.7" stroke="#222" stroke-width="0.7" fill="none"/>
<path d="M945.2,460.7 v2.5" stroke="#000" stroke-width="0.7"/>
<text x="945.2" y="469.2" text-anchor="middle" style="font-size:6px;fill:#000">1920</text>
<path d="M980.2,460.7 v2.5" stroke="#000" stroke-width="0.7"/>
<text x="980.2" y="469.2" text-anchor="middle" style="font-size:6px;fill:#000">1940</text>
<path d="M1015.2,460.7 v2.5" stroke="#000" stroke-width="0.7"/>
<text x="1015.2" y="469.2" text-anchor="middle" style="font-size:6px;fill:#000">1960</text>
<path d="M1050.3,460.7 v2.5" stroke="#000" stroke-width="0.7"/>
<text x="1050.3" y="469.2" text-anchor="middle" style="font-size:6px;fill:#000">1980</text>
<path d="M1085.3,460.7 v2.5" stroke="#000" stroke-width="0.7"/>
<text x="1085.3" y="469.2" text-anchor="middle" style="font-size:6px;fill:#000">2000</text>
<path d="M1120.3,460.7 v2.5" stroke="#000" stroke-width="0.7"/>
<text x="1120.3" y="469.2" text-anchor="middle" style="font-size:6px;fill:#000">2020</text>
<path d="M945.2,364.8 h-2.5" stroke="#000" stroke-width="0.7"/>
<text x="941.4000000000001" y="366.90000000000003" text-anchor="end" style="font-size:6px;fill:#000">0.6</text>
<path d="M945.2,382.3 h-2.5" stroke="#000" stroke-width="0.7"/>
<text x="941.4000000000001" y="384.40000000000003" text-anchor="end" style="font-size:6px;fill:#000">0.4</text>
<path d="M945.2,399.8 h-2.5" stroke="#000" stroke-width="0.7"/>
<text x="941.4000000000001" y="401.90000000000003" text-anchor="end" style="font-size:6px;fill:#000">0.2</text>
<path d="M945.2,417.3 h-2.5" stroke="#000" stroke-width="0.7"/>
<text x="941.4000000000001" y="419.40000000000003" text-anchor="end" style="font-size:6px;fill:#000">0.0</text>
<path d="M945.2,434.8 h-2.5" stroke="#000" stroke-width="0.7"/>
<text x="941.4000000000001" y="436.90000000000003" text-anchor="end" style="font-size:6px;fill:#000">-0.2</text>
<path d="M945.2,452.3 h-2.5" stroke="#000" stroke-width="0.7"/>
<text x="941.4000000000001" y="454.40000000000003" text-anchor="end" style="font-size:6px;fill:#000">-0.4</text>
<path d="M962.7,460.7 v1.5" stroke="#000" stroke-width="0.6"/>
<path d="M997.7,460.7 v1.5" stroke="#000" stroke-width="0.6"/>
<path d="M1032.8,460.7 v1.5" stroke="#000" stroke-width="0.6"/>
<path d="M1067.8,460.7 v1.5" stroke="#000" stroke-width="0.6"/>
<path d="M1102.8,460.7 v1.5" stroke="#000" stroke-width="0.6"/>
<path d="M945.2,373.6 h-1.5" stroke="#000" stroke-width="0.6"/>
<path d="M945.2,391.1 h-1.5" stroke="#000" stroke-width="0.6"/>
<path d="M945.2,408.6 h-1.5" stroke="#000" stroke-width="0.6"/>
<path d="M945.2,426.1 h-1.5" stroke="#000" stroke-width="0.6"/>
<path d="M945.2,443.6 h-1.5" stroke="#000" stroke-width="0.6"/>
<text transform="translate(925.8,417.3) rotate(-90)" text-anchor="middle" style="font-size:6.5px;fill:#000">D/B anomaly</text>
<path d="M945.2,351.4 H962.9" stroke="#1010e0" stroke-width="0.8"/><circle cx="954.3" cy="351.4" r="1.1" fill="#0000e0"/>
<text x="965.8" y="354.1" style="font-size:7.8px;font-weight:bold;fill:#000">Group III-anomaly</text>
<text x="1032.4" y="473.2" text-anchor="middle" style="font-size:6.5px;font-weight:bold;fill:#000;letter-spacing:0.4px">Year</text>
<text x="1130.4" y="109.7" style="font-family:'Liberation Serif',serif;font-weight:bold;font-size:19.5px;fill:#000">Dinoflagellates</text>
<text x="1130.4" y="130.8" style="font-family:'Liberation Serif',serif;font-weight:bold;font-size:19.5px;fill:#000">increase</text>
<text x="1124.2" y="252.0" style="font-family:'Liberation Serif',serif;font-weight:bold;font-size:19.5px;fill:#f00">Diatoms</text>
<text x="1124.2" y="272.9" style="font-family:'Liberation Serif',serif;font-weight:bold;font-size:19.5px;fill:#f00">increase</text>
<text x="1124.1" y="380.9" style="font-family:'Liberation Serif',serif;font-weight:bold;font-size:19.5px;fill:#1c1cd8">Dinoflagellates</text>
<text x="1124.1" y="402.0" style="font-family:'Liberation Serif',serif;font-weight:bold;font-size:19.5px;fill:#1c1cd8">increase</text>
<text x="1124.1" y="423.3" style="font-family:'Liberation Serif',serif;font-weight:bold;font-size:19.5px;fill:#1c1cd8">followed by</text>
<text x="1124.1" y="444.4" style="font-family:'Liberation Serif',serif;font-weight:bold;font-size:19.5px;fill:#1c1cd8">decrease</text>
<rect x="669" y="68.4" width="156.8" height="48.3" fill="none" stroke="#000" stroke-width="2"/>
<text x="676.2" y="87.8" style="font-size:19.3px;font-weight:bold;fill:#000">Enhanced N/P</text>
<text x="676.2" y="109.9" style="font-size:19.3px;font-weight:bold;fill:#000">nutrient input</text>
<rect x="721.4" y="125.6" width="94.2" height="48.3" fill="none" stroke="#000" stroke-width="2"/>
<text x="728.7" y="145.3" style="font-size:19.3px;font-weight:bold;fill:#000">Climate</text>
<text x="728.7" y="166" style="font-size:19.3px;font-weight:bold;fill:#000">warming</text>
<path d="M826.8,92.8 L929,87.4" stroke="#000" stroke-width="2.3" fill="none"/>
<path d="M920.5,83.2 L929.6,87.3 L921,92.2" stroke="#000" stroke-width="2" fill="none" stroke-linejoin="miter"/>
<path d="M816.6,149.4 L929,145.3" stroke="#000" stroke-width="2.3" fill="none"/>
<path d="M920.5,141 L929.6,145.3 L921,150" stroke="#000" stroke-width="2" fill="none"/>
<path d="M565.6,71.2 C578,76 590,84 592.5,93.3" stroke="#000" stroke-width="2" fill="none"/>
<path d="M592.8,91 L591.4,99.5 L598,95.6 L668,92.2" stroke="#000" stroke-width="2" fill="none"/>
<path d="M595.6,134.7 L720.4,147.4" stroke="#000" stroke-width="2" fill="none"/>
<path d="M506,143 L910,243.6" stroke="#808080" stroke-width="2" fill="none"/>
<path d="M914,244.6 L907.2,239.7 L905.8,245.6 Z" fill="#808080" stroke="#808080" stroke-width="1"/>
<g transform="matrix(0.9686,0.2487,-0.2822,0.9591,716.1,221.1)"><rect x="-57.25" y="-24.9" width="114.5" height="49.2" fill="none" stroke="#808080" stroke-width="2"/><text x="-50.7" y="-3.2" style="font-size:19.3px;font-weight:bold;fill:#f00">Persistent</text><text x="-50.7" y="18.8" style="font-size:19.3px;font-weight:bold;fill:#f00">upwelling</text></g>
<path d="M378.9,277.4 L624.3,331.3 M826,375.6 L906,393.2" stroke="#b5860f" stroke-width="2" fill="none"/>
<path d="M898.5,387.3 L907.7,393.6 L897,397" stroke="#b5860f" stroke-width="2" fill="none"/>
<g transform="matrix(0.9759,0.2181,-0.2581,0.9654,725.5,352.2)"><rect x="-102.75" y="-23.5" width="205.5" height="47" fill="none" stroke="#b5860f" stroke-width="2"/><text x="-93.9" y="-4.3" style="font-size:19.3px;font-weight:bold;fill:#1414d2">Increased upwelling</text><text x="-93.9" y="17.1" style="font-size:19.3px;font-weight:bold;fill:#1414d2">intensity after 1980s</text></g>
<rect x="598.3" y="413" width="205.1" height="48.2" fill="none" stroke="#b5860f" stroke-width="2"/>
<text x="605.5" y="433" style="font-size:19.3px;font-weight:bold;fill:#1414d2">Increased Kuroshio</text>
<text x="605.5" y="453.6" style="font-size:19.3px;font-weight:bold;fill:#1414d2">Current transport</text>
<path d="M804.4,437 L910,430.8" stroke="#b5860f" stroke-width="2" fill="none"/>
<path d="M901.5,426.2 L910.8,430.7 L902.3,436" stroke="#b5860f" stroke-width="2" fill="none"/>
<path d="M554.1,438.7 L597.7,437.4" stroke="#b5860f" stroke-width="2" fill="none"/>
</g>
</svg>
</body></html>
